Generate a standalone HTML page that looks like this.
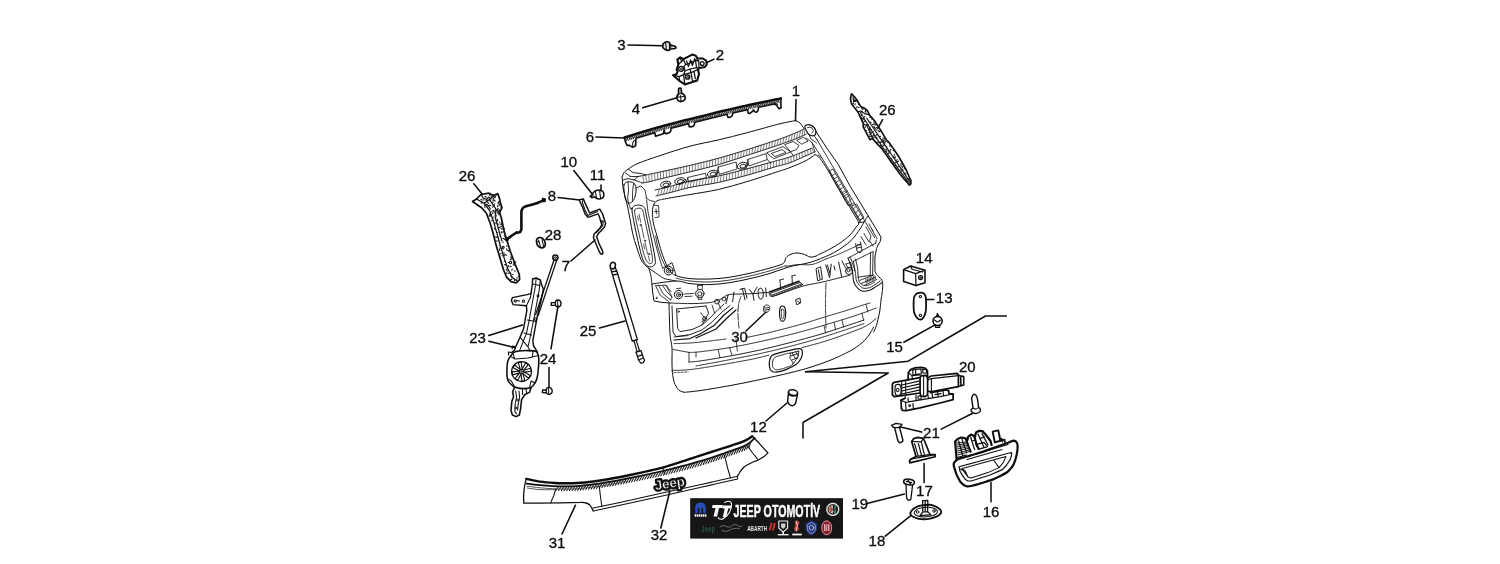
<!DOCTYPE html>
<html><head><meta charset="utf-8"><title>Liftgate parts diagram</title>
<style>
html,body{margin:0;padding:0;background:#fff;}
body{width:1500px;height:564px;overflow:hidden;font-family:"Liberation Sans",sans-serif;}
svg{display:block;}
</style></head><body>
<svg width="1500" height="564" viewBox="0 0 1500 564">
<defs><filter id="soft" x="-2%" y="-2%" width="104%" height="104%"><feGaussianBlur stdDeviation="0.42"/></filter></defs>
<rect x="0" y="0" width="1500" height="564" fill="#ffffff" stroke="none"/>
<g filter="url(#soft)" fill="none" stroke="#0d0d0d" stroke-width="1.3" stroke-linecap="round" stroke-linejoin="round">
<g id="gate">
<path d="M622.2,177 C622.5,176.3 623,173.9 624,172.6 C625,171.3 626,170.6 628.3,169.1 C630.6,167.6 632.7,165.7 638,163.4 C643.3,161.2 651.3,158.5 660,155.6 C668.7,152.7 680.3,148.8 690,146.2 C699.7,143.6 708.9,142.1 718.4,139.9 C727.9,137.7 737.2,135.3 746.7,132.8 C756.2,130.3 767.9,126.9 775.1,125 C782.3,123.1 786.5,122.3 790,121.6 C793.5,120.9 795,120.8 796,120.6" stroke-width="1.00"/>
<path d="M796,121 C796.7,121.3 798.7,121.8 800,123 C801.3,124.2 803.3,127.6 804,128.5" stroke-width="1.00"/>
<path d="M805,126 C805.7,125.1 808.5,124.5 810,124.8 C811.5,125 813,126.4 814,127.5 C815,128.6 816,130.2 816,131.5 C816,132.8 815.2,135 814,135.5 C812.8,136 810.3,135.4 809,134.5 C807.7,133.6 806.7,131.4 806,130 C805.3,128.6 804.3,126.9 805,126Z" stroke-width="1.20"/>
<path d="M807.6,127.6 L811,127 L813.6,130.6 L812,133M809,134.5 L811,139 L816.6,143M814,135.5 L818,141" stroke-width="0.80"/>
<path d="M622.2,177 C622.3,178.2 622.4,181.8 622.6,184 C622.8,186.2 622.8,186.7 623.5,190 C624.2,193.3 625.9,199 627,203.8 C628.1,208.6 629,214 630,219 C631,224 631.6,229 632.7,233.7 C633.8,238.4 635.2,242.8 636.6,247 C638,251.2 639.5,256.1 640.8,259 C642.1,261.9 643.2,263.1 644.6,264.6 C646,266.2 648.2,267.7 648.9,268.3" stroke-width="1.00"/>
<path d="M625.6,173 L630,176.4 L638,176.6M628.3,169.1 L633,172.6 L641.6,173.6 L646,175M623,180 L628,178.6 L634,180 L638,176.6" stroke-width="0.90"/>
<path d="M624,184.6 C624.6,182.9 626.4,182.1 628,181.8 C629.6,181.5 632.3,182 633.6,183 C634.9,184 635.7,185.8 636,188 C636.3,190.2 635.8,193.7 635.2,196 C634.6,198.3 633.5,200.4 632.4,201.6 C631.3,202.8 629.6,203.4 628.4,203 C627.2,202.6 626.1,200.8 625.4,199 C624.7,197.2 624.4,194.4 624.2,192 C624,189.6 623.4,186.3 624,184.6Z" stroke-width="1.00"/>
<path d="M628,181.8 L628.6,190 L627.6,198 L628.4,203M633.6,183 L632.6,191 L632.4,201.6M636,188 L641,186 L645,190 L646.6,198M634,180 L640,182 L642,183M628.4,203 L630.6,209 L632,208" stroke-width="0.80"/>
<path d="M638,176.6 C639.3,176.3 642.3,175.8 646,175 C649.7,174.2 652.7,173.6 660,172 C667.3,170.4 680.3,167.7 690,165.4 C699.7,163.1 708.9,160.9 718.4,158.3 C727.9,155.7 737.2,152.8 746.7,149.8 C756.2,146.9 767.9,143 775.1,140.6 C782.3,138.2 785.9,136.8 790,135.2 C794.1,133.6 797.7,132.1 800,131 C802.3,129.9 803.3,129.2 804,128.8" stroke-width="0.90"/>
<path d="M642,183 C643.3,182.8 647,182.3 650,181.6 C653,180.9 653.3,180.6 660,179 C666.7,177.4 680.3,174.2 690,171.8 C699.7,169.4 708.9,167.4 718.4,164.7 C727.9,162 737.2,158.6 746.7,155.5 C756.2,152.4 767.9,148.6 775.1,146.2 C782.3,143.8 785.9,142.5 790,141 C794.1,139.5 797.3,138.1 800,137 C802.7,135.9 805,134.7 806,134.2" stroke-width="0.90"/>
<path d="M655,190 C657.2,189.5 662.4,188.5 668.2,187 C674,185.5 681.6,182.8 690,181 C698.4,179.2 708.9,178 718.4,176 C727.9,174 737.2,171.4 746.7,168.9 C756.2,166.4 767.9,163.1 775.1,161.1 C782.3,159.1 783.9,159.1 790,156.9 C796.1,154.8 808.3,149.6 812,148.2" stroke-width="0.90"/>
<path d="M656,196 C658.3,195.4 664.3,194 670,192.6 C675.7,191.2 681.9,189.1 690,187.4 C698.1,185.7 708.9,184.4 718.4,182.4 C727.9,180.4 737.2,177.9 746.7,175.3 C756.2,172.7 767.9,168.9 775.1,166.8 C782.3,164.7 783.4,165.1 790,162.6 C796.6,160.1 810.8,153.6 815,151.8" stroke-width="0.90"/>
<path d="M643.5,182.7L642.9,175.6M646.4,182.2L645.8,175M649.3,181.7L648.7,174.4M652.1,181L651.6,173.8M655,180.3L654.5,173.2M657.9,179.6L657.5,172.5M660.7,178.8L660.4,171.9M663.6,178.1L663.3,171.3M666.5,177.4L666.2,170.6M669.4,176.8L669.1,170M672.2,176.1L672,169.4M675.1,175.4L675,168.7M678,174.7L677.9,168.1M680.8,174L680.8,167.4M683.7,173.3L683.7,166.8M686.6,172.6L686.6,166.1M689.5,171.9L689.5,165.5M692.3,171.2L692.4,164.8M695.2,170.5L695.3,164.1M698.1,169.8L698.2,163.3M700.9,169.1L701.1,162.6M703.8,168.3L704,161.9M706.7,167.6L706.9,161.2M709.5,166.9L709.8,160.4M712.4,166.2L712.7,159.7M715.3,165.5L715.6,159M718.1,164.8L718.5,158.3M721,163.9L721.4,157.4M723.8,163L724.2,156.6M726.6,162L727.1,155.7M729.4,161.1L729.9,154.8M732.2,160.2L732.8,154M735,159.3L735.6,153.1M737.8,158.4L738.5,152.3M740.6,157.5L741.4,151.4M743.4,156.6L744.2,150.5M746.2,155.6L747.1,149.7M749.1,154.7L749.9,148.8M751.9,153.8L752.8,147.8M754.7,152.9L755.6,146.9M757.5,152L758.4,146M760.3,151.1L761.3,145.1M763.1,150.1L764.1,144.2M765.9,149.2L767,143.2M768.7,148.3L769.8,142.3M771.5,147.4L772.6,141.4M774.3,146.5L775.5,140.5M777.1,145.5L778.3,139.4M779.9,144.5L781.1,138.4M782.7,143.5L783.9,137.4M785.5,142.6L786.7,136.4M788.3,141.6L789.5,135.4M791.1,140.6L792.3,134.2M793.8,139.5L795,133.1M796.5,138.4L797.8,131.9M799.3,137.3L800.5,130.7M802,136.1L803.1,129.3M804.7,134.8L804,128.8" stroke-width="0.70" stroke="#4a4a4a"/>
<path d="M657.5,195.6L659.3,189M660.5,194.9L662.3,188.3M663.4,194.2L665.2,187.7M666.4,193.5L668.1,187M669.4,192.7L671,186.2M672.4,192L674,185.4M675.3,191.2L676.9,184.6M678.3,190.4L679.8,183.8M681.3,189.7L682.7,183M684.2,188.9L685.6,182.2M687.2,188.1L688.5,181.4M690.2,187.4L691.4,180.7M693.2,186.8L694.4,180.2M696.2,186.3L697.4,179.7M699.2,185.8L700.3,179.2M702.2,185.2L703.3,178.7M705.2,184.7L706.3,178.1M708.3,184.2L709.2,177.6M711.3,183.7L712.2,177.1M714.3,183.1L715.2,176.6M717.3,182.6L718.1,176M720.3,181.9L721.1,175.3M723.3,181.2L724,174.6M726.2,180.4L726.9,173.9M729.2,179.7L729.8,173.1M732.2,178.9L732.8,172.4M735.2,178.2L735.7,171.7M738.1,177.4L738.6,170.9M741.1,176.7L741.5,170.2M744.1,176L744.4,169.5M747,175.2L747.4,168.7M750,174.3L750.3,167.9M752.9,173.4L753.2,167.1M755.8,172.6L756.1,166.3M758.8,171.7L759,165.5M761.7,170.8L761.9,164.7M764.7,169.9L764.8,163.9M767.6,169L767.7,163.1M770.5,168.2L770.6,162.3M773.5,167.3L773.5,161.5M776.4,166.4L776.4,160.7M779.4,165.6L779.3,159.9M782.3,164.8L782.2,159.1M785.2,163.9L785.1,158.3M788.2,163.1L788,157.5M791.1,162.1L790.9,156.5M793.9,160.9L793.7,155.4M796.7,159.7L796.5,154.3M799.5,158.5L799.3,153.2M802.3,157.3L802.1,152.1M805.2,156.1L804.9,151M808,154.8L807.7,149.9M810.8,153.6L810.5,148.8M813.6,152.4L812,148.2" stroke-width="0.70" stroke="#4a4a4a"/>
<ellipse cx="665.6" cy="184.4" rx="5.2" ry="3.1" transform="rotate(-14 665.6 184.4)" stroke-width="0.90"/><ellipse cx="680" cy="181" rx="5.4" ry="3.2" transform="rotate(-14 680 181)" stroke-width="0.90"/><ellipse cx="712.7" cy="173.6" rx="5.4" ry="3.2" transform="rotate(-15 712.7 173.6)" stroke-width="0.90"/><ellipse cx="742.5" cy="165.7" rx="5.4" ry="3.2" transform="rotate(-16 742.5 165.7)" stroke-width="0.90"/>
<ellipse cx="666" cy="184.8" rx="3" ry="1.7" transform="rotate(-14 666 184.8)" stroke-width="0.90"/><ellipse cx="680.4" cy="181.4" rx="3.1" ry="1.8" transform="rotate(-14 680.4 181.4)" stroke-width="0.90"/><ellipse cx="713.1" cy="174" rx="3.1" ry="1.8" transform="rotate(-15 713.1 174)" stroke-width="0.90"/><ellipse cx="742.9" cy="166.1" rx="3.1" ry="1.8" transform="rotate(-16 742.9 166.1)" stroke-width="0.90"/>
<path d="M688,177.4 L705.6,173.2 L706.4,177.6 L689,182ZM718.4,167 L736.2,162 L737,169 L719.6,174.2ZM748,159.4 L766,153.6 L767.2,159.6 L749.4,165.8Z" stroke-width="0.80"/>
<path d="M767,152.6 L783,146.6 L790.6,152 L774,158.6ZM771.6,153.4 L782,149.6 L786,152.4 L775.4,156.4ZM785,144.6 L793,141.4 L799,145.4 L796.6,149.6 L791,151.6ZM797,140 L803.6,137.4 L808,141 L802,144ZM767.2,159.6 L771,163M790.6,152 L793.6,156M688,177.4 L686,183M718.4,167 L716,176.6M748,159.4 L746,169" stroke-width="0.80"/>
<path d="M657.6,200.4 C659.1,200.1 661,199.6 666.4,198.6 C671.8,197.6 681.3,196 690,194.5 C698.7,193 708.9,191.6 718.4,189.5 C727.9,187.4 737.2,184.5 746.7,181.7 C756.2,178.9 767.9,174.9 775.1,172.5 C782.3,170.1 784.9,169.5 790,167.5 C795.1,165.5 801.8,162.8 806,160.6 C810.2,158.4 813.5,155.6 815,154.6" stroke-width="1.00"/>
<path d="M657.6,200.4 C657,201 654.9,202.1 654,204 C653.1,205.9 652.5,208.7 652.4,212 C652.3,215.3 652.8,220 653.6,224 C654.4,228 655.7,231.3 657,236 C658.3,240.7 660,247.4 661.5,252 C663,256.6 664.6,260.5 666,263.7 C667.4,266.9 668.3,269 670,271 C671.7,273 672.7,274.3 676,275.6 C679.3,276.9 684.3,278 690,278.6 C695.7,279.2 703.3,279.2 710,279 C716.7,278.8 723.3,278.2 730,277.2 C736.7,276.2 743.3,274.7 750,273.2 C756.7,271.7 764.8,269.4 770,268 C775.2,266.6 778.6,265.6 781,264.6 C783.4,263.6 783.8,263.2 784.6,262 C785.4,260.8 784.9,258.9 786,257.6 C787.1,256.3 789,255 791,254.2 C793,253.4 795.7,252.9 798,253 C800.3,253.1 802.6,253.9 804.6,254.6 C806.6,255.3 808.3,256.7 810,257 C811.7,257.3 813.3,256.9 815,256.4 C816.7,255.9 817.5,255.2 820,254 C822.5,252.8 826.7,250.8 830,249 C833.3,247.2 836.7,245.3 840,243 C843.3,240.7 847.3,237.7 850,235 C852.7,232.3 854.6,229.1 856,227 C857.4,224.9 859.3,225.3 858.6,222.6 C857.9,219.9 855.1,216.3 852,211 C848.9,205.7 844,197.4 840,190.6 C836,183.8 831.3,175.8 828,170.4 C824.7,165 822.2,161 820,158.4 C817.8,155.8 815.8,155.2 815,154.6" stroke-width="1.00"/>
<path d="M816,131.5 L826,147 L838,164 L850,186 L868,215.6 L881,237 L880.2,241.6 L878,245" stroke-width="1.00"/>
<path d="M816.6,139 L826,155 L846,189 L864,219.6 L874.6,237.6M812,142.6 L822,158 L842,192 L860.6,222.6M806,138 L812,142.6 L815,151.8M822,158 L818,155" stroke-width="0.80"/>
<path d="M829.6,170.6 L833,169 L848.6,196 L851.6,204 L848,205.6 L832.6,178.6ZM852,205.6 L856.6,204 L864,217.6 L860,220Z" stroke-width="0.80"/>
<path d="M835,173.7L832,175.7M837,177.1L834,179.1M839,180.6L836,182.6M841,184L838,186M843,187.4L840,189.4M845,190.9L842,192.9M847,194.3L844,196.3" stroke-width="0.70"/>
<path d="M847.1,190.9L843.5,194.5M849.4,194.7L845.9,198.3M851.6,198.6L848.2,202.2M853.9,202.4L850.5,206M856.1,206.2L852.8,209.8M858.4,210L855.2,213.6M860.6,213.9L857.5,217.5M862.9,217.7L859.8,221.3" stroke-width="0.70"/>
<path d="M632,208.6 C632.3,206.7 633.3,206.4 634.6,205.8 C635.9,205.2 638.4,204.9 640,205.2 C641.6,205.5 643.4,206.1 644.4,207.6 C645.4,209.1 645.2,210.6 646,214 C646.8,217.4 647.9,223 649,228 C650.1,233 651.4,239 652.4,244 C653.4,249 654.6,254.7 655,258 C655.4,261.3 655.6,262.5 655,264 C654.4,265.5 652.9,266.5 651.6,266.8 C650.3,267.1 648.4,266.7 647,265.6 C645.6,264.5 644.2,262.9 643,260 C641.8,257.1 640.8,252.7 639.6,248 C638.4,243.3 637.1,237.2 636,232 C634.9,226.8 633.7,220.9 633,217 C632.3,213.1 631.7,210.5 632,208.6Z" stroke-width="1.00"/>
<path d="M634.6,210.6 C634.7,209 635.5,209 636.4,208.6 C637.3,208.2 639,208 640,208.2 C641,208.4 641.9,208.7 642.6,210 C643.3,211.3 643.3,212.7 644,216 C644.7,219.3 646,225.2 647,230 C648,234.8 649.3,240.3 650.2,245 C651.1,249.7 652.1,255.1 652.4,258 C652.7,260.9 652.5,261.5 652.2,262.4 C651.9,263.3 651.3,263.6 650.6,263.6 C649.9,263.6 648.9,263.5 648,262.6 C647.1,261.7 646.2,260.6 645.2,258 C644.2,255.4 643.1,251.5 642,247 C640.9,242.5 639.5,235.8 638.4,231 C637.3,226.2 636.2,221.4 635.6,218 C635,214.6 634.5,212.2 634.6,210.6Z" stroke-width="0.80"/>
<path d="M639,214 L640.6,222M641.6,226 L644,238M645,242 L647.6,254M637.6,216 L638.4,220M643.6,244 L644.6,249M648.4,256 L649.6,260.6" stroke-width="0.80" stroke="#333"/>
<circle cx="640.6" cy="225" r="0.7" stroke-width="0.70"/><circle cx="645" cy="240.6" r="0.7" stroke-width="0.70"/><circle cx="649" cy="254" r="0.7" stroke-width="0.70"/>
<path d="M646.6,200 L648,212 L652,230 L656.6,248 L660.6,262 L662.7,268.3" stroke-width="0.80"/>
<path d="M653.6,205 L658.6,205.6 L659,217 L655,217.6M656,209 L656.4,214M654.6,211.6 L658,211.4M646,198 L650,200.6 L654.6,201.5M655.6,236 L658,248 L662,259.6 L665.6,266.6 L670,271" stroke-width="0.80"/>
<circle cx="668.6" cy="270.6" r="4.4" stroke-width="1.00"/><circle cx="668.6" cy="270.6" r="2.4" stroke-width="0.80"/><circle cx="668.6" cy="270.6" r="0.9" stroke-width="0.70"/>
<path d="M648.9,268.3 L651,276 L652,284M648.9,268.3 L664,278.6 L676,281M663,268 L672,262.6 L676,275" stroke-width="0.90"/>
<path d="M652,284 C656,283.5 669.7,281.1 676,281 C682.3,280.9 684.3,283 690,283.6 C695.7,284.2 703.3,284.8 710,284.6 C716.7,284.4 723.3,283.6 730,282.6 C736.7,281.6 743.3,280.1 750,278.6 C756.7,277.1 763.3,275.4 770,273.4 C776.7,271.4 783.3,268.4 790,266.6 C796.7,264.8 803.3,264.4 810,262.4 C816.7,260.4 824.7,257.1 830,254.6 C835.3,252.1 838.3,250.1 842,247.6 C845.7,245.1 849,242.7 852,239.6 C855,236.5 858,231.9 860,229 C862,226.1 863.3,223.2 864,222" stroke-width="1.00"/>
<path d="M676,278.2 C678.3,278.7 684.3,280.4 690,281 C695.7,281.6 703.3,282.2 710,282 C716.7,281.8 723.3,281 730,280 C736.7,279 743.3,277.5 750,276 C756.7,274.5 764,272.5 770,270.8 C776,269.1 783.3,266.5 786,265.6" stroke-width="0.80"/>
<path d="M786,266.4 C788,266.1 793.7,264.9 798,264.6 C802.3,264.3 807.3,265.4 812,264.5 C816.7,263.6 821.4,260.8 826,259 C830.6,257.2 835.6,255.5 839.6,253.8 C843.6,252.1 846.5,250.6 850,249 C853.5,247.4 859.1,245.1 860.9,244.3" stroke-width="0.80"/>
<path d="M652,284 L652.6,292 L654,301 L662,302.4 L670,303" stroke-width="1.00"/>
<path d="M655.6,285.6 L660,295 L668.6,301.4M658.6,285.4 L663,293.6 L670.6,300M662.6,285.6 L667,292 L672,297M666,285.2 L671,291.6M655.6,285.6 L666,285.2 L672,297 L670.6,300" stroke-width="0.80"/>
<circle cx="656.6" cy="298" r="0.7" stroke-width="0.70"/>
<path d="M670,303 C673.3,303.1 683.7,303.6 690,303.6 C696.3,303.6 703.7,303.2 708,302.8 C712.3,302.4 713.7,301.7 716,301 C718.3,300.3 720,299.6 722,298.6 C724,297.6 725,295.6 728,294.8 C731,294 735.7,294.2 740,294 C744.3,293.8 749.3,293.8 754,293.6 C758.7,293.4 765,292.1 768,292.6 C771,293.1 768.3,296.8 772,296.4 C775.7,296 784.6,292.2 790,290.4 C795.4,288.6 799.1,287.1 804.5,285.7 C809.9,284.3 817.8,283.1 822.6,282 C827.4,280.9 829.3,280.4 833.2,279.4 C837.1,278.4 843.2,276.9 846,276.2 C848.8,275.5 849.5,275.3 850.2,275.1" stroke-width="0.90"/>
<circle cx="678.6" cy="294.6" r="4.2" stroke-width="1.00"/><circle cx="678.6" cy="294.8" r="2.2" stroke-width="0.80"/><circle cx="678.6" cy="294.8" r="0.8" stroke-width="0.70"/><circle cx="699.8" cy="293.6" r="4.2" stroke-width="1.00"/><circle cx="699.8" cy="293.8" r="2.1" stroke-width="0.80"/>
<path d="M697.6,285.6 L698,289.6M702.4,285.4 L702.2,289.6M697.6,285.6 L702.4,285.4M698,296 L698.4,299.6 L701.8,299.6 L702,296M676.6,288.6 L680.8,288.2M684.6,294 L694,293.4M685,296.6 L692,296.2" stroke-width="0.80"/>
<path d="M740,289.4 L744.6,288.2 L747,298.2M742.4,288.8 L745,299.8M749.6,289.6 L753,294.2 L757,287.2M753,294.2 L754,300.4M758.6,289.4 C759.2,288.4 760.8,287.8 761.6,288.4 C762.4,289 763,291.2 763.2,292.8 C763.4,294.4 763.2,297 762.6,298 C762,299 760.5,299.4 759.8,298.8 C759.1,298.2 758.4,296 758.2,294.4 C758,292.8 758,290.4 758.6,289.4ZM734,292 L732.6,301.6M728,295.4 L726,303.6M765.6,288 L766.4,296.6" stroke-width="0.95"/>
<path d="M770,293.4 L800,282.4 L803,284.6 L773,296.2ZM771.6,295.2 L801.6,284M780,280 L780.6,288.6M792,276 L792.4,284.4M780,280 L783.6,279M792,276 L795.6,275" stroke-width="0.90"/>
<path d="M769.4,292 L799,281.2" stroke-width="1.60"/>
<path d="M816.4,268.6 L820.6,266.8 L822.4,279.2 L818,280.6ZM818.4,270 L820,278.6M825.8,265 L829.6,277.6 L831.2,264.2M827.4,265 L829.8,273M838.6,262 L841.6,276.6M842,261 L845.6,268M834,266 L835,270" stroke-width="0.95"/>
<circle cx="849.1" cy="270.9" r="3.6" stroke-width="1.00"/><circle cx="848.6" cy="270.2" r="1.6" stroke-width="0.80"/>
<path d="M846,264 L847.6,267.4M850.6,262.6 L852,267.6M846,264 L850.6,262.6" stroke-width="0.80"/>
<path d="M878,245 C877.7,245.8 876.8,247.8 876.3,250 C875.8,252.2 875.1,255.3 874.9,258 C874.7,260.7 875,263.7 875,266 C875,268.3 874.6,270.1 875.2,271.9 C875.8,273.7 877.5,275.2 878.6,276.6 C879.8,278 881.4,278.7 882.1,280.4 C882.8,282.1 882.7,284.5 882.7,286.8 C882.7,289.1 882.3,291.8 882,294 C881.7,296.2 881.4,297 881,300 C880.6,303 880.4,307.7 879.6,312 C878.8,316.3 877.4,322.3 876.4,325.6 C875.4,328.9 874.1,330.9 873.6,332" stroke-width="1.00"/>
<path d="M858.6,222.6 L864,222 L868,215.6" stroke-width="0.90"/>
<path d="M848.1,258.1 C848.5,259.2 849.9,262.9 850.6,265 C851.3,267.1 851.9,269.1 852.3,270.9 C852.7,272.7 852.8,274.4 853,276 C853.2,277.6 853.1,279.1 853.4,280.4 C853.7,281.7 854.1,282.9 854.6,284 C855.1,285.1 855.9,285.9 856.6,286.8 C857.3,287.7 858.1,288.7 859,289.4 C859.9,290.1 860.7,290.7 861.9,291 C863.1,291.3 864.6,291.2 866,291 C867.4,290.8 868.7,290.7 870.4,290 C872.1,289.3 874,287.8 876,286.6 C878,285.4 881.1,283.3 882.1,282.6" stroke-width="1.05"/>
<path d="M850.2,257 C850.6,258.2 852,261.7 852.8,264 C853.6,266.3 854.5,268.9 855,270.9 C855.5,272.9 855.6,274.6 855.8,276 C856,277.4 855.8,278.3 856.1,279.4 C856.4,280.5 856.9,281.6 857.4,282.6 C857.9,283.6 858.6,284.4 859.3,285.2 C860,286 860.8,286.7 861.6,287.2 C862.4,287.7 862.9,288.3 864,288.4 C865.1,288.5 866.8,288.3 868,288 C869.2,287.7 870.2,287.5 871.5,286.8 C872.8,286.1 874.6,285 876,284 C877.4,283 879.3,281.5 880,281" stroke-width="0.85"/>
<path d="M858.2,277.2 C858.3,277.8 858.5,279.7 858.8,280.6 C859.1,281.5 859.3,281.9 859.8,282.6 C860.3,283.3 861.1,284.1 862,284.6 C862.9,285.1 863.8,285.7 865.1,285.7 C866.4,285.7 868.4,285.2 870,284.6 C871.6,284 873.9,282.4 874.7,282" stroke-width="0.80"/>
<path d="M848.1,258.1 L875.7,243.2M853.4,261.3 L872.6,251.7M873.1,251.7 L872.8,264 L872.6,275.1M875.7,243.2 L876.3,240M853.4,261.3 L855,270.9M870.6,252.8 L870.2,276M855.6,259 L857.6,268 L858.2,277.2M858.2,277.2 L872.6,275.1" stroke-width="0.85"/>
<path d="M859.8,280.4 L873.6,275.1M860.9,283.6 L875.7,277.2M864,285.7 L876.8,279.4" stroke-width="0.80"/>
<path d="M865.8,279.3L866.4,283.1M867.3,278.7L867.9,282.4M868.8,278.2L869.4,281.8M870.3,277.6L870.9,281.1M871.8,277L872.4,280.4M873.3,276.5L873.9,279.8M874.8,275.9L875.4,279.1" stroke-width="0.80" stroke="#222"/>
<path d="M855.6,243.6 L857,251 L860,253 L862,250 L860.4,242M857,245 L859.6,244.4M857.4,248 L860.6,247.2" stroke-width="0.90"/>
<path d="M866,227 L871,236 L869.6,241 L873,246M872,229.6 L877,238.6M861,236.6 L866,245M864,233.6 L869,242M869,224 L873,231" stroke-width="0.80"/>
<path d="M669,303 C669.1,305.5 669.2,312.8 669.4,318 C669.6,323.2 669.6,329 670,334 C670.4,339 671.7,344 672,348 C672.3,352 672,354.3 672,358 C672,361.7 671.9,366.3 672.2,370 C672.5,373.7 673,377.3 673.6,380 C674.2,382.7 675.1,384.3 676,386 C676.9,387.7 677.7,389.4 679,390.4 C680.3,391.4 682.8,391.7 683.6,392" stroke-width="1.00"/>
<path d="M683.6,392.4 C686.3,392.1 692.3,391.7 700,390.6 C707.7,389.5 720,387.4 730,385.6 C740,383.8 750,381.7 760,379.6 C770,377.5 781.7,374.8 790,372.8 C798.3,370.8 803.3,369.5 810,367.4 C816.7,365.3 823.3,363.1 830,360.4 C836.7,357.7 844.7,353.9 850,351 C855.3,348.1 858.8,345.5 862,342.8 C865.2,340.1 867.1,337.6 869,335 C870.9,332.4 872.8,328.3 873.6,327" stroke-width="1.00"/>
<path d="M672,306 L673,332 L676,336.6 L690,334.6 L702,330 L712,322 L722,312 L730,305.6M676.6,309 L677.6,328.6 L680,331.6 L692,329.6 L702,325 L710,318 L718,309.6 L724,304M676.6,309 L690,307.6 L706,306M706,306 L708.6,313 L702,325" stroke-width="0.90"/>
<path d="M700,334 L714,325.6 L724,315 L733,307.6M696,338 L716,329 L727,318 L736,310M674,340 L690,338.6 L700,334" stroke-width="1.15"/>
<path d="M674,337 L688,335.6M700.6,312.6 L704.6,318 L702,322M712,305 L714.6,313M718,302.6 L721,309" stroke-width="0.80"/>
<circle cx="678.6" cy="311.6" r="0.8" stroke-width="0.70"/><circle cx="704.6" cy="318.6" r="2" stroke-width="0.80"/><circle cx="717" cy="301.6" r="2.4" stroke-width="0.90"/><circle cx="724" cy="299" r="2" stroke-width="0.80"/>
<path d="M741,296.6 C740.6,297.8 739.1,300.8 738.6,304 C738.1,307.2 737.9,312 738,316 C738.1,320 738.8,326 739,328M826,283 C825.9,285.2 825.7,291.2 825.6,296 C825.5,300.8 825.5,306.7 825.6,312 C825.7,317.3 825.9,325.3 826,328" stroke-width="0.80" stroke-dasharray="7 1.5"/>
<path d="M764,306.6 C764.5,305.7 765.7,305 766.6,305 C767.5,305 769.2,305.5 769.6,306.4 C770,307.3 769.6,309.6 769,310.6 C768.4,311.6 766.9,312.6 766,312.6 C765.1,312.6 763.9,311.6 763.6,310.6 C763.3,309.6 763.5,307.5 764,306.6ZM764.6,308 L768.6,307.6M764.6,310 L768.6,309.6" stroke-width="0.90"/>
<path d="M780,308 C780.5,306.3 781.8,306 782.6,306 C783.4,306 784.5,306.3 785,308 C785.5,309.7 785.8,313.9 785.6,316 C785.4,318.1 784.8,319.8 784,320.6 C783.2,321.4 781.7,321.4 781,320.6 C780.3,319.8 779.8,318.1 779.6,316 C779.4,313.9 779.5,309.7 780,308Z" stroke-width="1.10"/>
<path d="M781.4,310 C781.6,308.6 782.6,308.8 783,309 C783.4,309.2 783.8,309.8 784,311 C784.2,312.2 784.2,314.7 784,316 C783.8,317.3 783.4,318.3 783,318.6 C782.6,318.9 781.9,319 781.6,317.6 C781.3,316.2 781.2,311.4 781.4,310Z" stroke-width="0.80"/>
<path d="M796,299.6 L800,298 L800.6,303 L797,304.6ZM797.6,301 L799.6,302.6" stroke-width="0.90"/>
<path d="M746,337.6 C750,336.7 761,334.6 770,332.4 C779,330.2 790.7,327.2 800,324.6 C809.3,322 818.3,318.9 826,316.6 C833.7,314.3 840,312.5 846,310.6 C852,308.7 858,306.7 862,305.4 C866,304.1 868.7,303.4 870,303" stroke-width="0.80"/>
<path d="M674,343.6 C676.7,343.5 684,343.4 690,343 C696,342.6 704,341.7 710,341 C716,340.3 723.3,339.3 726,339" stroke-width="0.80"/>
<path d="M689,352.4 C690.8,352.3 693.2,352.6 700,351.8 C706.8,351 720,349.3 730,347.6 C740,345.9 750,343.8 760,341.6 C770,339.4 780,337.1 790,334.6 C800,332.1 810.7,329.1 820,326.4 C829.3,323.7 838.7,320.9 846,318.6 C853.3,316.3 859,314.4 864,312.6 C869,310.8 874,308.8 876,308" stroke-width="0.80"/>
<path d="M689,362 C690.8,361.8 693.2,362 700,361 C706.8,360 720,357.8 730,356 C740,354.2 750,352.2 760,350 C770,347.8 780,345.2 790,342.6 C800,340 810.7,337.2 820,334.4 C829.3,331.6 838.7,328.4 846,326 C853.3,323.6 861,321 864,320" stroke-width="0.90"/>
<path d="M696,366 C701.7,364.9 719.3,361.7 730,359.6 C740.7,357.5 750,355.8 760,353.6 C770,351.4 780,349 790,346.4 C800,343.8 810.7,340.8 820,338 C829.3,335.2 838.7,332 846,329.6 C853.3,327.2 861,324.6 864,323.6" stroke-width="0.80"/>
<path d="M673,349.4 L689,352.4M689,352.4 L689,362M696,352 L696,357M718,349.4 L720,357.6M729.6,347.6 L732,355.6M736,339 L737.4,351M824,325.6 L825.6,332.6M834,322.4 L835.6,329.4M842,319.6 L843.6,327M862,313.2 L863.6,320.6M866,304.4 L868,312" stroke-width="0.80"/>
<path d="M672,370.4 C675,370.3 682,370.5 690,369.6 C698,368.7 710,366.7 720,365 C730,363.3 741.8,361.2 750,359.6 C758.2,358 765.8,355.9 769,355.2" stroke-width="0.80"/>
<path d="M802,347.6 C806,346.5 818,343.5 826,341 C834,338.5 843.3,335.1 850,332.6 C856.7,330.1 861.7,328.3 866,326 C870.3,323.7 874.3,319.8 876,318.6" stroke-width="0.80"/>
<path d="M674,372.6 L688,372" stroke-width="0.70" stroke-dasharray="2 1.5"/>
<path d="M769.6,360.6 C770,358.9 770.3,356.9 772,355.6 C773.7,354.3 776.7,353.6 780,352.6 C783.3,351.6 788.7,350.5 792,349.8 C795.3,349.1 798.3,348.3 800,348.6 C801.7,348.9 802.2,349.9 802.4,351.6 C802.6,353.3 802.1,356.4 801,358.6 C799.9,360.8 798.5,362.8 796,364.6 C793.5,366.4 789.3,368.3 786,369.6 C782.7,370.9 778.5,372 776,372.2 C773.5,372.4 772.1,371.6 771,370.6 C769.9,369.6 769.6,367.7 769.4,366 C769.2,364.3 769.2,362.3 769.6,360.6Z" stroke-width="1.20"/>
<path d="M772.6,361.6 C773,360.4 773,358.7 774.6,357.6 C776.2,356.5 779.4,355.7 782,355 C784.6,354.3 788.7,352.7 790,353.2 C791.3,353.7 789.5,356.2 790,358 C790.5,359.8 793.7,362.4 793,364 C792.3,365.6 788.7,366.6 786,367.6 C783.3,368.6 779.1,369.7 777,369.8 C774.9,369.9 774.2,368.8 773.4,368 C772.6,367.2 772.5,366.1 772.4,365 C772.3,363.9 772.2,362.8 772.6,361.6Z" stroke-width="0.80"/>
<path d="M790,353.2 L799,351 L797.6,357.6 L793,364M792,352.8 L795.6,358.6M795.6,351.8 L798.4,356M791,356 L797,353.6M792,360 L797.6,357.6" stroke-width="0.90"/>
</g>
<g id="p3">
<path d="M663,44.3 C663.5,43.5 664.4,42.3 665.4,42 C666.4,41.7 668.1,41.8 669,42.3 C669.9,42.8 669.7,44.3 670.7,45 C671.7,45.7 674.2,45.8 675,46.3 C675.8,46.8 676.3,47.8 675.6,48.3 C674.9,48.8 672.2,48.7 671,49 C669.8,49.3 669.3,50.2 668.3,50.3 C667.3,50.4 665.9,49.9 665,49.4 C664.1,48.9 663,47.9 662.7,47 C662.4,46.1 662.5,45.1 663,44.3Z" stroke-width="1.69" fill="#e4e4e4"/>
<path d="M665.6,42.6 L666.4,49.6M669.4,43.4 L669.6,49.4M670.7,45 L670.8,48.8" stroke-width="1.04"/>
</g>
<g id="p2">
<path d="M677.3,59.6 L680.2,57.4 L683.4,59.2 L692.2,54.6 L695.8,55.7 L697.2,58.2 L702.9,58.5 L706.1,60.6 L706.8,64.2 L705,67 L699.3,68.1 L697.9,69.5 L699,74.1 L697.2,80.5 L684.8,84.4 L679.8,81.2 L673.1,75.2 L676.6,74.1 L677.7,71.3 L676.6,69.9 L678.4,64.2Z" stroke-width="2.08"/>
<circle cx="702.2" cy="63.5" r="1.9" stroke-width="1.30"/><circle cx="681.2" cy="68.8" r="2.5" stroke-width="1.30"/><circle cx="681.4" cy="69" r="1" stroke-width="0.91"/><circle cx="687.6" cy="77" r="2.2" stroke-width="1.30"/><circle cx="687.6" cy="77.2" r="0.9" stroke-width="0.91"/>
<path d="M683.4,59.2 L685.6,64.6 L684,66.4M685.6,64.6 L697.2,60.2M686.6,61 L688.4,66.6 L690.6,60 L692.4,65.6 L694.6,58.6M695.4,59.6 L696.6,67.6 L699.3,68.1M697.2,58.2 L697.6,61M698.6,60 L699,66.6M684,66.4 L685,71 L690,69 L696.6,67.6M685,71 L683.6,74.6 L684.8,84.4M690,69 L691,72.6 L697.9,69.5M683.6,74.6 L691,72.6 L692.6,81.4M673.1,75.2 L679,76.6 L679.8,81.2M679,76.6 L683.6,74.6M692.6,81.4 L697.2,80.5M694,72 L695.4,78.6M680.2,57.4 L681.6,61.6 L678.4,64.2M681.6,61.6 L683.4,59.2" stroke-width="1.23"/>
</g>
<g id="p4">
<path d="M678.6,89 C678.8,88.4 679.6,88.2 680,88.2 C680.4,88.2 681,88.3 681.2,89 C681.4,89.7 681.2,91.8 681.4,92.6 C681.6,93.4 682.1,93.1 682.6,93.6 C683.1,94.1 684.2,94.8 684.6,95.6 C685,96.4 685.4,97.7 685.2,98.6 C685,99.5 684.3,100.3 683.4,100.8 C682.5,101.3 680.8,101.6 679.8,101.4 C678.8,101.2 677.9,100.4 677.4,99.6 C676.9,98.8 676.6,97.5 676.8,96.6 C677,95.7 678.1,94.8 678.4,94 C678.7,93.2 678.6,92.4 678.6,91.6 C678.6,90.8 678.4,89.6 678.6,89Z" stroke-width="1.76"/>
<path d="M678.4,94 L682.6,93.6M680.6,95.6 L681,101M677.4,97 L684.8,96.6" stroke-width="1.04"/>
</g>
<g id="p6">
<path d="M624.6,137.6 C628,136.5 638.3,133.2 645,131.2 C651.7,129.2 658.3,127.3 665,125.5 C671.7,123.7 678.7,121.9 685,120.3 C691.3,118.7 696.3,117.5 703,115.9 C709.7,114.3 718,112.2 725,110.6 C732,108.9 738.3,107.5 745,106 C751.7,104.5 759,103 765,101.7 C771,100.4 778.2,99 780.8,98.4" stroke-width="2.60"/>
<path d="M780.8,98.4 L781,108 L778.8,108.6 L776.6,105.4 L774.4,103.9 L758.6,107.2 L758,110.7 L756.6,112.1 L754.7,111.7 L753.5,110 L751.9,111.9 L749.6,113.6 L748.2,113.1 L747.6,109.6 L732.8,113 L732.2,115.8 L730.8,117 L729.2,117.4 L727.8,117.1 L727.2,114.3 L694.8,122.1 L694.2,125.1 L692.8,126.4 L690.6,126.9 L689.2,126.6 L688.6,123.6 L671.2,128.1 L670.6,131.4 L669.2,132.8 L666.2,133.6 L664.8,133.3 L664.2,129.9 L663.4,133.8 L655.6,136.2 L654.8,132.6 L636,138.2 L635.6,145.8 L632.6,147.4 L629.6,145.4 L627,145.4 L625.4,142 L624.6,137.6" stroke-width="1.62"/>
<path d="M634.6,140.2 L632.8,142.6 L632.6,147M775.5,103.2 L777.8,104.6" stroke-width="1.04"/>
<path d="M625.5,138.3L626.5,140.9M627.2,137.8L628.3,140.3M629,137.2L630,139.8M630.7,136.7L631.8,139.2M632.5,136.1L633.5,138.7M634.2,135.6L635.3,138.1M636,135L637,137.6M637.7,134.5L638.8,137M639.4,133.9L640.5,136.5M641.2,133.4L642.3,135.9M642.9,132.8L644,135.4M644.7,132.3L645.8,134.9M646.4,131.8L647.5,134.4M648.2,131.3L649.3,133.9M650,130.8L651,133.4M651.7,130.3L652.8,132.8M653.5,129.8L654.6,132.3M655.3,129.3L656.3,131.8M657,128.8L658.1,131.3M658.8,128.3L659.8,130.8M660.5,127.8L661.6,130.3M662.3,127.3L663.4,129.8M664.1,126.8L665.1,129.3M665.8,126.3L666.9,128.9M667.6,125.8L668.7,128.4M669.4,125.4L670.4,127.9M671.1,124.9L672.2,127.5M672.9,124.4L674,127M674.7,124L675.8,126.6M676.5,123.5L677.5,126.1M678.2,123.1L679.3,125.6M680,122.6L681.1,125.2M681.8,122.1L682.8,124.7M683.5,121.7L684.6,124.3M685.3,121.2L686.4,123.8M687.1,120.8L688.2,123.4M688.9,120.4L689.9,122.9M690.7,119.9L691.7,122.5M692.4,119.5L693.5,122.1M694.2,119L695.3,121.6M696,118.6L697.1,121.2M697.8,118.2L698.8,120.8M699.5,117.7L700.6,120.3M701.3,117.3L702.4,119.9M703.1,116.9L704.2,119.5M704.9,116.4L706,119M706.7,116L707.7,118.6M708.4,115.6L709.5,118.2M710.2,115.2L711.3,117.7M712,114.7L713.1,117.3M713.8,114.3L714.9,116.9M715.6,113.9L716.6,116.5M717.3,113.4L718.4,116M719.1,113L720.2,115.6M720.9,112.6L722,115.2M722.7,112.2L723.8,114.7M724.5,111.7L725.5,114.3M726.2,111.3L727.3,113.9M728,110.9L729.1,113.5M729.8,110.5L730.9,113.1M731.6,110.1L732.7,112.7M733.4,109.7L734.5,112.3M735.2,109.3L736.2,111.9M737,108.9L738,111.4M738.7,108.4L739.8,111M740.5,108L741.6,110.6M742.3,107.6L743.4,110.2M744.1,107.2L745.2,109.8M745.9,106.8L746.9,109.4M747.7,106.4L748.7,109M749.5,106L750.5,108.6M751.2,105.7L752.3,108.3M753,105.3L754.1,107.9M754.8,104.9L755.9,107.5M756.6,104.5L757.7,107.1M758.4,104.1L759.5,106.7M760.2,103.7L761.3,106.3M762,103.3L763.1,105.9M763.8,103L764.8,105.6M765.6,102.6L766.6,105.2M767.4,102.2L768.4,104.8M769.2,101.8L770.2,104.4M770.9,101.5L772,104.1M772.7,101.1L773.8,103.7M774.5,100.7L775.6,103.3M776.3,100.3L777.4,102.9M778.1,100L779.2,102.6M779.9,99.6L781,102.2" stroke-width="1.04" stroke="#2a2a2a"/>
<path d="M624.9,140.2 C628.3,139.1 638.6,135.8 645.3,133.8 C652,131.8 658.6,129.9 665.3,128.1 C672,126.3 679,124.5 685.3,122.9 C691.6,121.3 696.6,120.1 703.3,118.5 C710,116.9 718.3,114.8 725.3,113.2 C732.3,111.5 738.6,110.1 745.3,108.6 C752,107.1 759.3,105.6 765.3,104.3 C771.3,103 778.5,101.5 781.1,101" stroke-width="0.91" stroke="#444" stroke-dasharray="3 2.2 1.2 1.6"/>
</g>
<g id="p26r">
<path d="M851.4,93.8 L850.5,99 L851.5,103.7 L854.4,107.6 L857.9,112 L860.6,117.6 L863.4,123.9 L863,126.4 L866.6,133.4 L869.9,139.6 L872.6,138.7 L877,143.6 L881.9,148.8 L886.4,155 L891.1,161.7 L895.6,168 L900.3,174.6 L904,179 L907.7,182.9 L909.4,185.2 L911,183.6 L910.6,180.2 L908.4,175 L905.8,169.1 L902.4,163 L898.5,156.2 L893.6,149 L888.3,141.5 L886.8,140.6 L881.9,132.2 L878.6,127 L875.4,122.1 L872.6,118.6 L869.9,115.6 L868.4,112.6 L867.1,110.1 L864,108 L860.7,106.4 L858.6,103 L857,100 L854.6,97 L852.4,94.5 L851.4,93.8Z" stroke-width="1.62"/>
<path d="M863.4,123.9 L866.6,125.6 L869.6,131 L872.6,138.7M857.9,112 L861,111 L864.6,113.6 L868.6,114.6M860.6,117.6 L865,120 L870,128 L876,137.6 L884,149 L893,161.6 L901,172.6 L908,181.6M853,96.8 L853.6,101.6 L857,101M886.8,140.6 L884.4,142.4M866.6,118 L872,126 L879.6,137.4 L888,149.6 L896.6,162 L904.6,174 L909,180.6" stroke-width="1.10"/>
<path d="M881.2,147.5l0.3,0.7M909.9,182l-0.5,-0.8M862,115.9l0.8,0.1M863.4,118.5l1.1,-0.2M863.4,117.4l0.1,-0.6M873,135.2l0.8,-0.2M861.6,107.9l0.9,-0.6M865.6,111.1l-0.1,-1.2M892.3,147.2l0.2,0.3M895.1,158.1l0.3,-1.2M905,173.4l-0.9,0.5M885.8,149.5l0.8,0.5M862.8,109.3l0.8,-0.5M901.1,171.4l-0.3,-1.2M888.6,153.7l0.4,-1.2M867,125.4l-0.3,-0.8M903.7,166.6l0.7,-0.3M909.8,183.1l-1.1,-0.3M859,107.4l-1,-0.1M869.4,128.6l0.7,-1M882.9,139.8l-0.3,-0.2M884.6,138.7l-0.1,-0.3M908.4,178.2l-0.1,0.8M862.2,114.6l-0.2,-0.6M865.7,111.9l-0.7,-0.1M873.2,131.6l-0.5,-0.1M883.9,140.9l-0.4,-0.2M861.7,112.4l0.7,-1.1M870.3,136.5l-0.7,-0.1M862.3,108.9l-0.3,-0M904.5,167.1l-0.3,-1.1M895.5,164.9l0.3,-0.6M904.7,174.2l-0.4,-1M871.2,136.7l0.7,0M889.1,150.8l0.1,1.2M890.4,145.9l-0.7,-0.1M892.9,163.4l0.3,-0M866,130.5l0.5,0.2M883.8,140.2l0.8,-0.2M882.4,148.4l-0.4,0.4M890.1,145l-0.2,1M910.3,180.1l1.1,0.5M876.5,137.5l0.5,-0.1M872.2,118.6l-0.3,-0.8M886.3,151.7l0,-0.5M905.9,174.1l0.3,0.1M866.9,132.7l-0.3,-0.3M873.1,137.5l0.2,0.6M855,104.7l0.3,-0.9M876.4,127.6l1,0.7M855.2,101.4l-0.7,-0.3M894.4,157.2l-0.1,0.4M906.1,179.7l0.6,-0.4M869.7,130.3l1.1,-0.5M865.5,126.9l-0.4,0.5M874.4,129.2l0.3,0.8M883.4,145.7l0.9,-0.2M855.6,101.3l-0.1,-1.2M874.4,124.7l1,-0.2M880.4,142.9l-0.2,-1M902.1,167.5l0.6,-1M852.7,103.7l0.2,0.5M861.7,119.5l0.5,0.9M882.4,140.9l-0.2,1.3M893.7,149.2l0.3,0.4M870,117.5l0.6,-0.6M901.7,168.9l0.5,0.3M879.5,136.6l0.9,-0.2M883.4,141.8l0.6,0.9M869.3,122.2l0.5,0.3M868.5,124.6l-0.8,0.6M866,112.1l-0.1,-0.6M891.5,158.5l0.3,0.6M896.9,168.8l-0.5,0.4M890.4,149.4l0.6,0.1M872.4,136.1l0.9,0.9M883.4,145.1l-0.5,-0.2M910.2,179.7l-0.3,-0.5M891.1,161.2l-0.7,0.6M878.9,131.4l-0.7,-0.7M896.4,162.5l-1.3,0.1M901.2,172l-0.6,0.4M882.3,141.8l-1.1,0.5M869,130l0,0.4M865.3,121.2l-0.2,0.3M904.7,168.3l-0.5,0.4M853.5,103.5l-0.1,-0.6M905,173.3l-0.1,-0.4M864,121.9l-0.1,-0.5M861.5,115.3l-0.6,-0.9M864.4,121.3l0.9,-0.4M877.1,142.1l-0.3,-0.1M898.1,166.1l0.1,0.8M861.4,107.7l0.8,0.1M876.8,134.2l-0.1,1.1M884.9,143.5l0.1,-0.5M888.1,141.8l-0.1,0.9M860.9,117.1l0.5,0.8M900.8,165.7l0.7,0.3M874.3,121l-0.3,0.2M896.7,160.9l0.1,0.5M872.5,124.6l0.9,-0.1M863.5,125.6l0.3,0.8M860.4,112.4l0.2,0.7M869.2,134.7l1,-0M861.5,117.8l-1,0.8M896.8,159.9l0.3,-0.2M870,128.9l1,0.6M869.4,132.6l-0.4,-0.1M894.4,154.7l0.3,0.4M875,129.1l0.4,-0.4M868.2,125.3l0.1,0.3M876.4,129.7l0.6,0.3M870.4,139.2l-0.1,0.5M874.8,137.2l0.5,0.8M871.2,132.4l0.5,0.7M874.2,127.1l0.7,0.3M870.2,117l0.6,0.1M888.5,150.5l-0.6,0.4M869.2,126.7l0.4,-0.1M862.1,114.7l-0.2,-0.5M883.7,150.9l-1,-0.4M892.6,156.6l1.1,-0.3M880.2,145.3l-0.4,0.4M864.8,116.6l-0.2,0.4M854.3,100.1l0.8,0.6M901.5,169.5l-0.7,-0.3M893.3,150.7l0.5,-1M883.3,138l-0.4,0.4M898.9,170.5l-0.1,0.7M853.6,99.7l0.5,-0.4M879.8,131.7l0.2,-0.7M890.2,150.7l-0.2,1.2M898.4,161l-0.9,0.7M900.6,164l0.4,-0M874,127.6l-0.6,-0.9M871.9,119.3l0.5,-0.3M856.9,106.9l-0.4,0.6M874.9,123.2l-1.2,-0.3M881,145.7l0.9,0.7M886.8,146.2l-0.3,-0M886.4,148.1l0.4,-0.2M878,142.8l0.3,-0.4M902.2,164.3l-1.1,-0.4M902.8,170l0.4,0.3M871,122.6l-0.4,-0.4M858.3,104.4l0.8,-0.3M869.3,131.1l0.6,0.7M875.2,135.6l-1.2,-0.1M875.9,125l0.5,-1" stroke-width="1.10" stroke="#1c1c1c"/>
</g>
<g id="p26l">
<path d="M472.5,201.5 L476.5,199 L481,194.5 L489,193.2 L493.5,195.5 L497.8,193.6 L499.6,198.8 L500.6,203.6 L502,207.6 L499.6,212.6 L501.6,219 L503.6,229 L506.2,238.6 L510.2,251 L514.8,263.5 L519.3,274.5 L519.6,279.6 L516.2,283 L511,281.6 L506.6,277.2 L503.6,270 L500,258 L496.2,245.6 L493.2,233.6 L490.2,223.2 L486.4,213.2 L481.6,207.8Z" stroke-width="1.69"/>
<path d="M476.5,199 L484,203.2 L489.6,210.6 L493.6,221.6 L497,233.6 L500.4,246 L504.2,258.2 L508.2,269.6 L512.2,277.6 L516.4,280.6M484,203.2 L489.6,199.6 L493.5,195.5M489.6,199.6 L496.2,209.6 L499.6,212.6M496.2,209.6 L495.2,216.6 L498.4,228.6 L502,241.2M481,194.5 L483.6,198.8" stroke-width="1.17"/>
<path d="M492.3,207.3l-0.2,-0.3M500.7,226.2l0.8,0.3M482.3,202l-1,0.5M502.3,228.9l0.3,-0.1M485.2,204.4l-0.4,1M497.4,220.4l0.3,-1M507,246.3l-0.7,-0.4M512.7,277.1l-1,0.2M486.1,204.3l1,0.4M511.9,270l-0.1,0.7M499.9,248.3l-0.2,-0.3M515,262.6l0.8,-0.8M495,229.1l0.7,0.6M482,199.9l0.1,0.4M492.9,198.6l0.5,0M493.9,204.8l0.8,-1.1M497.9,236.6l0.3,0.2M493,217.3l0.2,-0.4M500.4,206.9l-0.3,-0.1M492.5,213.6l0.5,-1.2M513.2,264.9l0.4,-0.9M493.5,196.6l0.6,0.1M516.5,280.9l0.6,-0.2M505.3,264.4l0.8,0.5M515.4,262.8l0,-0.8M484.5,207.3l0.9,-0.6M499.3,240.8l-0.3,-0M496.9,210.1l1.1,0M508.1,243l-0.4,0.7M503.7,238.5l-1,-0.1M497.4,240.9l-1.2,0.2M507.1,271.1l0.5,-0.2M510.5,272.9l0.6,0.8M514.4,279.1l0.2,1.2M495.2,236.9l1.1,-0.1M499.9,223.8l0.2,0.6M501.4,232.8l0.6,0.1M504.1,239.1l1.2,0.5M510.6,279.5l0.4,0.3M490.2,205.4l-1.1,0.6M502,255.6l0.3,0.2M504.6,264.5l1,0.6M497.4,223.8l-1.2,-0.4M490.1,205.4l-0.5,-0.1M491.8,220.8l0,-0.6M499.3,209.7l-0.2,0.3M489.4,195.4l-0.1,-0.8M507.4,250l-0.5,0.4M489.6,208.4l1,0.6M490.6,215.3l-0.2,0.7M498.2,238.2l0.2,0.8M491.5,214.5l-0.7,-0.4M509.1,251.9l-0.3,-1.2M494.9,222.7l0.4,-0M508.1,250.6l1.1,0.3M508.5,265.5l0.5,0.6M511.3,266.7l-1,-0.6M506.5,255l0,0.3M501.6,249.2l-0.7,-0.7M511,259.8l-0.8,-0M499,227.7l-1,0.1M509.8,248.3l-0.2,-0.3M506,254.9l-0.3,-0.5M499.9,234.9l-0.4,0.1M518.1,276.4l0.8,0.1M511.9,279.2l-0.5,0.2M497.3,220.6l0.4,0.5M494.2,228.6l0.9,-0M490.4,198.2l0.9,0.7M499.7,210.7l-0.9,0.9M514.4,265.5l-0.8,-0.9M509.2,250.7l-0.1,0.3M498.2,224.2l-0.3,1M501.5,228.7l0.2,0.4M499.1,213.4l1.1,-0.7M497.3,206.3l0.1,0.4M493,202l0,0.6M494.4,223.8l0.5,0.2M499.4,249.4l0.3,-0.4M490.2,215.9l-0.6,0.4M517.2,268.7l0.2,-0.2M512.1,269.3l0.5,-0.1M500.1,254l1,-0.4M505.1,261.3l-0.8,0.2M504.6,255.5l0.3,0.2M500.2,245.3l-0.4,0.3M491.6,195.9l-1,0M496.1,216.6l-0.6,-1.1M488.5,197l-0.4,0.6M511,259l-0.5,-0M499.1,210.5l0.1,0.7M485.1,198.6l0.6,0.3M515,271.8l-0.1,-1.3M494.3,223.2l0.1,0.3M480.9,199.5l0.5,-0.3M509,273.1l-0.3,0.5M492,218.3l1.1,0M517.3,277.9l-0.4,0.4M496.5,237.4l0.4,-0.2M511.2,259l0.5,-1M489.3,199.7l0.8,0.2M514.4,280.9l-0,0.4M504,253.3l-0,-1.1M501.9,226.8l-0,-0.5M489.3,215.6l0.7,1M502.3,222.7l-1,0.8M499.5,214.4l0.3,-0.9M512.7,274.5l0.6,0.1M503,248.6l0.1,0.7M491.8,211.9l0.2,-0.8M482,202.9l-0.7,0.5M495.7,218.9l-0.4,1.2M493.9,211.4l-0.1,-0.5M497.7,208.3l0.8,0.1M511.3,279.1l0.1,0.4M516.8,279.8l-0.4,0M500,227.8l0.4,0.4M508.1,273l0.8,0.2M503.2,242.4l-0.4,-0.4M497.1,232.6l0.9,0.1M498.8,214.7l0.1,-1.1M497.6,209.8l-0.4,0.1M508.5,262.4l-0.4,-0M499.4,227.3l0.4,-0.1M508.4,265.7l0.4,1.2M510.6,275.9l0.6,0.3M499.5,222.1l0.5,0.1M506.3,272.8l0.5,0.9M504.4,228.7l0.2,-0.5M497,209.6l-0,-0.3M502.6,252.4l-0.1,0.3M503.8,232l-1.2,-0.1M504.1,235.8l0.8,0.9M489.1,207.1l0.8,0.5M513.9,262.8l-0.5,0.3M501.7,224.8l-0.5,-0.6M495.5,214.9l1,0.4M499.5,250.5l0.2,-0.4M491.7,220.4l1.1,0.4M510.4,257l1.1,0M488.4,203.3l0,0.3M507,268.4l-0.1,-0.5M501.4,232.4l0.2,-0.8M489.8,214.8l-0,-1.2M504.4,255l-0.6,-1.1M507.1,269.5l-0.9,0.4M502,221.1l0.2,0.9M485.2,196.4l1,0.8M493.1,206.5l0.3,0.1M506.9,249.8l-0.3,-1" stroke-width="1.04" stroke="#222"/>
<path d="M485.9,204.6l-0.7,0.7M493.9,195.8l1.2,0.1M486.3,198.9l0.8,-0M498.2,203.4l-0.3,-0.4M494.1,210.6l-1.1,-0.2M494.8,195.8l0,-0.9M498.8,203.3l-0.2,-1.2M495.7,211.5l-0.9,0.7M483.8,198.6l0.8,-0.2M493.9,200.1l-0.7,-0M488.2,205.4l-1.1,-0.7M495,211.7l0.9,-1.1M494.8,197.6l0.9,-1M499.6,205.1l-0.1,-0.5M498.1,205.2l-0.1,0.4M498.6,212.8l1,0.6M489.5,197.4l-0.3,1.1M493.7,195.4l-0.1,-0.7M499.1,212.6l-1.4,-0M493.4,195.2l0.2,0.7M493.6,197.5l1.2,0.3M499.5,201.6l-0.8,0.2M494.3,205.6l-0.9,-0.4M500.4,203.9l-1,0.5M485.9,200.1l0.9,-0.1M489.6,205.3l1,0.1M494,195.7l-0.6,-0.6M495,201.1l-0.3,-1.1M494.9,212.3l-0,0.8M493.2,200.5l-0.4,0.5M488.6,205.6l-0.2,0.7M496.9,195.1l-1,-0.5M487.4,198.7l0.2,-0.5M484.9,202.6l-0.1,-0.4M487.6,200.7l0.4,-0.7M487.9,206.6l0.6,-0.5M485.6,196.8l-0.5,-0.1M497.6,210l0.2,0.6M497.6,206.4l0.2,-0.6M483.7,200l0.2,-0.6M488.1,202.3l-0.7,0.4M499.1,212.8l-1.2,0.5M496.4,210l-0.5,-0.7M487,200.9l0.1,0.4M493.1,199.9l0.1,-0.3" stroke-width="1.17" stroke="#222"/>
<circle cx="506.8" cy="239" r="1.6" stroke-width="1.17"/><circle cx="510.5" cy="262.5" r="1.2" stroke-width="1.04"/><circle cx="503.2" cy="247.2" r="1" stroke-width="1.04"/>
</g>
<g id="p8">
<path d="M544.2,200 C543.6,200.3 542,201 540.5,201.6 C539,202.2 537.2,203.1 535,203.8 C532.8,204.5 529.5,205.2 527.5,205.8 C525.5,206.4 524.2,206.7 523.2,207.6 C522.2,208.5 521.7,210.6 521.4,211.2 L521.4,229.6 L520,232.2 L516.6,232.6 " stroke-width="2.60"/>
<path d="M516.6,232.6 L512.6,235 L509.2,237.6 L506.6,239.8" stroke-width="2.60"/>
<path d="M542.6,198.6 L545.2,199 L545,201.4 L542.8,201.4Z" stroke-width="1.56" fill="#111"/>
</g>
<g id="p7">
<path d="M579.5,199.6 L583.4,199 L585.8,204.6 L589.6,213 L599.8,209.2 L602.4,213.6 L605.6,223.2 L604.4,227.2 L598.6,233.2 L596.6,236.6 L599,243.6 L602.4,250.6 L603,253.6 L601.2,254.4 L599.4,252 L596.4,245 L593.4,237.8 L594.2,234 L599.8,228.2 L601.8,224.8 L599.4,216.8 L598,213.8 L588,217.4 L585.2,214.2 L582.6,207.2 L580.2,202.2Z" stroke-width="1.43"/>
<path d="M583.4,199 L582.2,202 L585,210 L587.8,215.4 L597.6,211.6M603.4,221 L602.6,226 L596.4,232.6" stroke-width="1.04"/>
<circle cx="601.6" cy="221.4" r="0.9" stroke-width="1.04"/>
</g>
<g id="p10">
<path d="M591.6,195.6 C591.9,194.7 592.7,193.1 593.6,192.2 C594.5,191.3 595.9,190.5 597.2,190.2 C598.5,189.9 600.3,189.9 601.4,190.4 C602.5,190.9 603.3,191.9 603.6,193 C603.9,194.1 603.9,195.8 603.4,196.8 C602.9,197.8 601.7,198.5 600.6,198.8 C599.5,199.1 597.6,198.9 596.6,198.6 C595.6,198.3 595.4,197 594.6,196.8 C593.8,196.6 592.5,197.8 592,197.6 C591.5,197.4 591.3,196.5 591.6,195.6Z" stroke-width="1.56"/>
<path d="M595.4,192.4 L596.6,198.2M599.6,190.6 L600.6,198.4M591,195.2 L589.8,196.6 L591.8,197.8" stroke-width="1.04"/>
</g>
<g id="p28">
<path d="M536.6,239.8 C536.9,238.6 538.2,237.8 539.2,237.6 C540.2,237.4 541.7,237.7 542.6,238.4 C543.5,239.1 544.4,240.4 544.8,241.6 C545.2,242.8 545.5,244.4 545.2,245.4 C544.9,246.4 543.9,247.3 543,247.6 C542.1,247.9 540.6,247.7 539.6,247.2 C538.6,246.7 537.7,245.8 537.2,244.6 C536.7,243.4 536.3,241 536.6,239.8Z" stroke-width="1.69"/>
<path d="M538.6,240.2 L540.4,246.6M542,239 L543.6,246.6M537,242 L539,241.4" stroke-width="1.04"/>
</g>
<g id="p23">
<circle cx="555.4" cy="257.6" r="2.6" stroke-width="1.56"/><circle cx="555.4" cy="257.6" r="0.9" stroke-width="0.91"/>
<path d="M554,260 L535.6,314.6M556.6,260.6 L538.2,315.4" stroke-width="1.30"/>
<path d="M532.6,279 L536.2,278 L540.4,280 L541.2,283.6 L543.4,289.2 L541.6,298 L539,309 L537.2,317 L535,328.6 L532.8,340.6 L533.6,346 L537.6,352.4" stroke-width="1.43"/>
<path d="M532.6,279 L532.4,284 L531,293.6 L527,294.6 L512.4,297.6 L511.4,300.6 L513,304.6 L526.4,305.8 L526.8,310.6 L525.2,319.6 L523.6,328.6 L520,337.2 L516.2,345.6 L514.4,350.2 L511.6,352.6" stroke-width="1.43"/>
<path d="M536.2,278 L535.4,286 L533.4,297 L531,310 L528.6,323 L526.4,333.6 L523,342 L519.6,350.6M540.4,280 L539.2,290 L536.8,303 L534.4,316 L531.8,329 L529.6,340 L528,346.6 L530,351M531,293.6 L530.4,297.6 L526.4,305.8M532.4,284 L540,285.6M527.4,320 L535.6,321.6M524,333 L531.4,335M520,337.2 L527.6,346.4M516.4,300.4 L519.6,301" stroke-width="1.04"/>
<circle cx="515.2" cy="301" r="1.1" stroke-width="1.04"/><circle cx="523.4" cy="301.2" r="1.1" stroke-width="1.04"/><circle cx="535.4" cy="319" r="1.2" stroke-width="1.04"/><circle cx="538" cy="296" r="0.9" stroke-width="1.04"/>
<path d="M514.6,346.6 L512.4,346.2 L512.2,348.6M510.4,352.4 L508.4,352 L508.6,355" stroke-width="1.17"/>
<path d="M507,367.7 C507.1,364.7 507.4,362.5 508,360.6 C508.6,358.7 509.4,357.8 510.4,356.4 C511.4,355 512.6,353.3 514,352.4 C515.4,351.5 516.7,351.3 519,351 C521.3,350.7 525.2,350.5 528,350.6 C530.8,350.7 534.1,350.6 535.8,351.4 C537.5,352.2 537.9,353.8 538.4,355.6 C538.9,357.4 538.8,359.6 538.8,362 C538.8,364.4 538.5,367.5 538.2,370 C538,372.5 537.8,374.8 537.3,377 C536.8,379.2 536,381.3 535,383 C534,384.7 533,386.5 531.2,387.4 C529.4,388.3 526.5,388.6 524,388.6 C521.5,388.6 518.2,388.2 516,387.4 C513.8,386.6 512,385.5 510.6,384 C509.2,382.5 508,381.3 507.4,378.6 C506.8,375.9 506.9,370.7 507,367.7Z" stroke-width="1.56"/>
<circle cx="521.6" cy="371.6" r="10" stroke-width="1.17"/><circle cx="521.6" cy="371.6" r="2.2" stroke-width="1.17"/><circle cx="521.6" cy="371.6" r="0.8" stroke-width="0.91"/>
<path d="M524,372.1 L530.3,375.6 L528.6,378.2 L522.9,373.6M522.9,373.6 L524.9,380.6 L521.9,381.2 L521.1,374M521.1,374 L517.6,380.3 L515,378.6 L519.6,372.9M519.6,372.9 L512.6,374.9 L512,371.9 L519.2,371.1M519.2,371.1 L512.9,367.6 L514.6,365 L520.3,369.6M520.3,369.6 L518.3,362.6 L521.3,362 L522.1,369.2M522.1,369.2 L525.6,362.9 L528.2,364.6 L523.6,370.3M523.6,370.3 L530.6,368.3 L531.2,371.3 L524,372.1" stroke-width="1.10"/>
<path d="M510.4,356.4 L515,359 L528,358 L538.4,355.6M507.4,378.6 L511,380.6 L514,385.6M535,383 L531,381 L529.6,387.6M513,353.6 L514.6,358.6M533,351.4 L532.4,357.2" stroke-width="1.04"/>
<path d="M514.6,387.2 L512.6,392 L513.6,396.6 L511.8,401.6 L511,410.6 L512.4,415 L516,416.6 L519.4,415 L520.6,408.6 L521.6,399.6 L524.6,394.8 L529.4,392.4 L531,388" stroke-width="1.56"/>
<path d="M515.6,391 L516.6,397 L515.2,404 L514.8,411.6 L516.8,413.8M519,391 L519.6,397.6 L518.2,404 L517.6,410M522.4,389.6 L522.6,394.6M526,389 L526.6,393" stroke-width="1.04"/>
<circle cx="516" cy="408" r="1" stroke-width="0.91"/><circle cx="517.4" cy="400" r="1" stroke-width="0.91"/>
</g>
<g id="p24">
<path d="M555.6,301.2 C555.9,300.3 556.9,300.1 557.6,300 C558.3,299.9 559.4,300.2 560,300.8 C560.6,301.4 561,302.5 561,303.4 C561,304.3 560.6,305.6 560,306.2 C559.4,306.8 558.3,307.1 557.6,307 C556.9,306.9 555.9,306.6 555.6,305.6 C555.3,304.6 555.3,302.1 555.6,301.2ZM555.6,302.4 L551.4,302.6 L551.2,305.2 L555.6,305.4" stroke-width="1.43"/>
<path d="M557.6,300.4 L557.8,306.8" stroke-width="1.04"/>
<path d="M546.6,388.6 C546.9,387.7 547.9,387.5 548.6,387.4 C549.3,387.3 550.4,387.6 551,388.2 C551.6,388.8 552.2,389.9 552.2,390.8 C552.2,391.7 551.8,393 551.2,393.6 C550.6,394.2 549.6,394.5 548.8,394.4 C548,394.3 547,394 546.6,393 C546.2,392 546.3,389.5 546.6,388.6ZM546.6,389.8 L542.6,390 L542.4,392.6 L546.6,392.8" stroke-width="1.43"/>
<path d="M548.6,387.8 L548.8,394.2" stroke-width="1.04"/>
</g>
<g id="p25">
<path d="M610.2,265.8 C610.3,264.9 610.7,263.3 611.4,262.8 C612.1,262.3 613.9,262.5 614.6,263 C615.3,263.5 615.6,265 615.4,266 C615.2,267 614.4,268.4 613.6,268.8 C612.8,269.2 611.4,268.7 610.8,268.2 C610.2,267.7 610.1,266.7 610.2,265.8Z" stroke-width="1.56"/>
<path d="M610.6,268.4 L611.6,271.8 L632.2,341M615.2,267.6 L616.8,271 L637.4,339.6M611.6,271.8 L616.8,271M632.2,341 L637.4,339.6M612.6,275 L617.8,274.2" stroke-width="1.30"/>
<path d="M634,341 L637.2,351.8M636.2,340.4 L639.6,351" stroke-width="1.17"/>
<path d="M636,352.2 L641,350.6 L642.4,354.8 L637.4,356.4ZM637.4,356.4 L638.6,360 L640.6,363 L643.4,362.6 L644.6,360 L643.4,358 L642.4,354.8M638.6,360 L643.4,358" stroke-width="1.30"/>
</g>
<g id="p12">
<ellipse cx="793" cy="392.6" rx="4.6" ry="2.8" transform="rotate(12 793 392.6)" stroke-width="1.56"/>
<path d="M788.6,392.2 L787.6,401.6M797.6,393.6 L795.6,403.4M787.6,401.6 C787.9,402.1 788.7,404.1 789.6,404.8 C790.5,405.5 792,405.8 793,405.6 C794,405.4 795.2,403.8 795.6,403.4" stroke-width="1.43"/>
<path d="M789,394.8 C789.6,395 791.3,396.1 792.6,396.2 C793.9,396.3 796.3,395.7 797,395.6" stroke-width="1.04"/>
</g>
<g id="p14">
<path d="M903.6,269.6 L910.6,266 L925,270.2 L925,282.8 L916,285.6 L903.6,281.6Z" stroke-width="1.56"/>
<path d="M903.6,269.6 L915.6,273.6 L925,270.2M915.6,273.6 L916,285.6M910.6,266 L912,269.2 L922.4,272" stroke-width="1.17"/>
<circle cx="920.6" cy="277.6" r="2" stroke-width="1.17"/><circle cx="920.6" cy="277.6" r="0.8" stroke-width="0.91"/>
</g>
<g id="p13">
<path d="M913.8,299 C914,297.3 914.4,296.4 915,295.4 C915.6,294.4 916.3,293.6 917.6,293.2 C918.9,292.8 921.4,292.5 922.6,292.8 C923.8,293.1 924.4,294 925,295 C925.6,296 925.8,296.9 926,298.6 C926.2,300.3 926.1,302.9 926.1,305 C926.1,307.1 926.1,309.2 925.8,311 C925.5,312.8 925,314.3 924.4,315.6 C923.8,316.9 923.1,318.4 922.2,319 C921.3,319.6 919.8,319.7 918.8,319.3 C917.8,318.9 916.8,317.6 916,316.4 C915.2,315.2 914.4,313.8 914,312 C913.6,310.2 913.6,307.8 913.6,305.6 C913.6,303.4 913.6,300.7 913.8,299Z" stroke-width="1.76"/>
<circle cx="920.4" cy="296.6" r="1.2" stroke-width="1.04"/><circle cx="920.4" cy="315.4" r="1.2" stroke-width="1.04"/>
</g>
<g id="p15">
<circle cx="937.6" cy="321" r="4.6" stroke-width="1.56"/>
<path d="M936.6,316.4 L937.4,313.4 L938.8,316.4M935,325 L935.6,327.4 L939.6,327.4 L940,325.2M934.6,320 C935.1,320.3 936.6,322 937.6,322 C938.6,322 940.1,320.3 940.6,320" stroke-width="1.17"/>
</g>
<g id="p20">
<path d="M920.1,377.6 L894,382.3 L892.4,383.9 L892.4,395.1 L894.6,396.7 L920.1,393" stroke-width="1.76"/>
<path d="M895.4,385.6 C895.8,384.7 896.8,384.5 897.6,384.4 C898.4,384.3 899.6,384.4 900.2,385 C900.8,385.6 900.9,386.7 901,388 C901.1,389.3 901.2,391.4 901,392.6 C900.8,393.8 900.6,394.5 900,395 C899.4,395.5 898.3,395.5 897.6,395.4 C896.9,395.3 896,395.3 895.6,394.4 C895.2,393.5 895,391.5 895,390 C895,388.5 895,386.5 895.4,385.6Z" stroke-width="1.17"/>
<circle cx="897.6" cy="390" r="1.5" stroke-width="1.04"/>
<path d="M901.8,385 L920,380.9M901.8,388 L920,383.9M901.8,391 L920,386.9M901.8,394 L920,389.9" stroke-width="1.17"/>
<path d="M901.6,381.2 L901.8,396M905.6,380.4 L905.8,395.2" stroke-width="1.04"/>
<path d="M920.1,377.6 L921,375.8 L926,375.4 L927.6,378 L927.6,394.6 L925,396.6 L921,396.2 L920.1,393Z" stroke-width="1.69"/>
<path d="M923.6,375.8 L923.6,396.2" stroke-width="1.04"/>
<path d="M908,380 L908.4,372.6 L910.6,369.6 L915,367.8 L921,367.4 L925,368 L927.4,370.6 L927.6,378" stroke-width="1.76"/>
<path d="M912.6,369.8 L921,369 L921.4,373.8 L913,374.8ZM922.6,369.2 L926.4,369.6 L926.8,372.8 L923,373ZM908.4,372.6 L912,375.6 L920,375M912,375.6 L912.4,379.2M915.6,370.4 L915.8,374M910.6,369.6 L912.6,369.8" stroke-width="1.17"/>
<path d="M927.6,378.1 L931,376 L957,373.3 L958.4,374.9 L958.4,386.6 L930.7,391.9 L927.6,391" stroke-width="1.69"/>
<path d="M927.6,380 L931.4,378.6 L958.4,375.6M931.4,378.6 L931.4,391.6" stroke-width="1.10"/>
<path d="M958.4,375.4 L963.7,376.6 L963.7,385 L958.4,386.4M960.7,376.4 L960.9,385.2" stroke-width="1.56"/>
<path d="M905,398.4 L901,400 L901.4,408.6 L902.6,410.4 L906,410.6 L920,407.8 L940,403 L953.1,399.6 L953.1,394 L949,393.6 L948.6,390.6 L946,390 L930.7,392.6" stroke-width="1.76"/>
<path d="M901,400 L905.6,402.4 L906,410.6M905.6,402.4 L916,400.6 L940,396.6 L953.1,394M908,397.8 L908.4,402M913,403.6 L913.4,408.6M905,398.4 L905.2,396.6M916,395 L916,400.6M932,392.4 L932.6,397.6M937.6,391.4 L938.2,396.6M943,390.6 L943.6,395.6M935,394.6 L941,393.6M928,395.6 L928.4,398.6" stroke-width="1.17"/>
<circle cx="919.6" cy="397.6" r="1.8" stroke-width="1.17"/><circle cx="909.6" cy="405.6" r="0.9" stroke-width="1.04"/>
</g>
<g id="p21">
<path d="M971.6,398 C971.9,397.4 972.8,394.8 973.6,394.4 C974.4,394 975.5,394.7 976.2,395.6 C976.9,396.5 977.4,398.9 977.6,399.6M971.6,398 L973,408M977.6,399.6 L978.6,407.6M973,408 C972.7,408.3 971.1,409.2 971,410 C970.9,410.8 971.7,412 972.6,412.6 C973.5,413.2 975.4,413.6 976.6,413.4 C977.8,413.2 979.4,412.3 980,411.6 C980.6,410.9 980.4,409.7 980.2,409 C980,408.3 978.9,407.8 978.6,407.6" stroke-width="1.43"/>
<path d="M973,408 C973.5,408.2 975.1,409.1 976,409 C976.9,408.9 978.2,407.8 978.6,407.6" stroke-width="1.04"/>
<path d="M891.6,425.4 L896,423.4 L902,424.4 L899.6,427.6 L893.6,427.6ZM894.6,427.6 L898,441 L899.6,442.8 L902.6,441.6 L902.8,439.6 L899.6,427.6" stroke-width="1.43"/>
</g>
<g id="p17">
<path d="M911.7,441.5 L913.8,438.6 L917.6,437.4 L923.4,438.3 L926.6,446 L929.8,454.3 L935.1,454.7 L935.2,456.8 L909.8,462.9 L909.5,461 L910.6,459.2 L916,456.4Z" stroke-width="1.69"/>
<path d="M911.7,441.5 L921.3,441.9 L924.5,455.3 L916,456.4M921.3,441.9 L923.4,438.3M924.5,455.3 L929.8,454.3M910.6,459.2 L935.1,454.7M914.6,443.6 L918,455.6M918.4,443.6 L921.4,455" stroke-width="1.17"/>
</g>
<g id="p19">
<ellipse cx="909" cy="482" rx="5.4" ry="2.8" transform="rotate(8 909 482)" stroke-width="1.56"/>
<path d="M906,484.6 L906.6,498 L908.4,500.4 L910.8,499.6 L912.6,485M906.4,481.4 L911.6,482.6M908,480.2 L910.4,484" stroke-width="1.30"/>
</g>
<g id="p18">
<path d="M910.4,513 C910.7,512.1 911.5,510.6 912.6,509.6 C913.7,508.6 915.1,507.5 916.7,506.8 C918.3,506.1 920,505.7 922,505.4 C924,505.1 927,504.7 929,504.8 C931,504.9 932.5,505.3 934,505.8 C935.5,506.3 937.1,507.1 938.2,507.9 C939.3,508.7 940.3,509.5 940.8,510.4 C941.3,511.2 941.4,512.2 941,513 C940.6,513.8 939.6,514.7 938.6,515.4 C937.6,516.1 936.5,516.7 935.1,517.2 C933.7,517.7 931.9,518.3 930,518.6 C928.1,518.9 925.9,519.2 923.9,519.2 C921.9,519.2 919.7,519 918,518.6 C916.3,518.2 914.9,517.6 913.7,517 C912.5,516.4 911.5,515.9 911,515.2 C910.5,514.5 910.1,513.9 910.4,513Z" stroke-width="1.89"/>
<path d="M914.2,512.8 C914,511.9 915.1,511 916,510.2 C916.9,509.4 917.4,508.7 919.6,508.2 C921.8,507.7 926.5,507.1 929,507.2 C931.5,507.3 933.2,508 934.6,508.6 C936,509.2 937.1,510.2 937.4,511 C937.7,511.8 937.3,512.8 936.6,513.6 C935.9,514.4 935.1,515 933,515.6 C930.9,516.2 926.7,517 924,517 C921.3,517 918.6,516.5 917,515.8 C915.4,515.1 914.4,513.7 914.2,512.8Z" stroke-width="1.04"/>
<path d="M922.6,500.6 L922.8,512 L920,515.6M927.8,500.4 L927.6,511.6 L930.8,514.8M922.6,500.6 L927.8,500.4M922.8,512 L927.6,511.6M925.2,501 L925.2,511.8M920,515.6 L930.8,514.8" stroke-width="1.23"/>
<circle cx="917.6" cy="512" r="1.3" stroke-width="0.91"/><circle cx="934" cy="511" r="1.3" stroke-width="0.91"/>
</g>
<g id="p16">
<path d="M954.2,462.6 C955,461.5 955.8,460.2 958.4,459 C961,457.8 966,456.8 970,455.6 C974,454.4 978.3,453.3 982.6,451.9 C986.9,450.5 991.8,448.5 996,447 C1000.2,445.5 1005.1,443.8 1008.1,442.7 C1011.1,441.6 1012.3,440.6 1013.8,440.6 C1015.3,440.7 1016.4,441.8 1017,443 C1017.6,444.2 1017.7,446 1017.6,448 C1017.5,450 1017.2,452.3 1016.6,455 C1016,457.7 1014.8,461.7 1013.8,464 C1012.8,466.3 1011.8,467.2 1010.6,468.6 C1009.4,470 1008.5,471.2 1006.7,472.5 C1004.9,473.8 1002.4,475 1000,476.2 C997.6,477.4 995.5,478.5 992.5,479.6 C989.5,480.7 985.5,481.9 982,483 C978.5,484.1 973.7,485.4 971.2,486 C968.7,486.6 968.2,486.5 967,486.4 C965.8,486.3 965.1,485.8 964.1,485.2 C963.1,484.6 961.8,483.5 961,482.6 C960.2,481.7 959.8,480.9 959.1,479.6 C958.4,478.3 957.3,476.3 956.6,474.6 C955.9,472.9 955.4,471.1 954.9,469.6 C954.4,468.1 953.9,466.8 953.8,465.6 C953.7,464.4 953.4,463.7 954.2,462.6Z" stroke-width="2.21"/>
<path d="M959.1,466.8 L984,460 L1008.1,453.3 L1011.6,452.6 L1011.6,455 L1010.2,459.7 L1006.6,465 L1002.4,469.6 L990,475 L971.2,481 L968,481 L965.5,479.6 L962.6,475.6 L959.9,471Z" stroke-width="1.17"/>
<path d="M962,468.6 L984,462.6 L1006,456.6 L1003,463 L999,467.6 L988,472.6 L971,478 L968,477 L964.6,472.4ZM968,477 L965,470.6 L962,468.6M999,467.6 L995,462 L993.6,460M959.6,468.6 L962,470" stroke-width="1.04"/>
<path d="M966,457 L1008,444.6M967,459.6 L1002,449.6" stroke-width="1.04"/>
<path d="M956.6,460 L955.1,441.5 L957.6,439 L961,437.5 L965.7,438.4 L968.6,446.6 L970.6,451.6M967,441 L968.4,436.4 L971,434.6 L974.2,436 L976.4,444 L978.6,449M974.8,437.4 L976,432.4 L979,430.8 L982.6,431.2 L986,435 L990.5,441 L991.6,445" stroke-width="2.21"/>
<path d="M992.7,431.6 L998.3,430.4 L1000.4,440.8 L994.8,442.4Z" stroke-width="1.95"/>
<path d="M1000.4,440.8 L1004.6,439.6 L1005,442.4M1001.6,438.6 L1002.4,441.6" stroke-width="1.69"/>
<path d="M956.5,443L966.8,441.9M956.7,445L967.3,443.5M957,447L967.7,445.1M957.2,449L968.2,446.7M957.4,451L968.6,448.3M957.7,453L969.1,449.9M957.9,455L969.6,451.5" stroke-width="1.04" stroke="#222"/>
<path d="M958.6,441 L962.6,455M962,439.4 L966.6,452.6M970.6,437 L974.6,449.6M978,434 L983.6,446.6M982,433.6 L988,445M972,441 L975.6,440M979.6,438.6 L984.6,437M976,444.6 L984,442.4 L987.6,446.6 L979,449.2ZM957,457.6 L966,455" stroke-width="1.23"/>
</g>
<g id="p31">
<path d="M526.3,478.9 C528.6,479.3 535.2,480.9 540,481.6 C544.8,482.3 550.5,482.7 555,483 C559.5,483.3 562.1,483.3 567.1,483.2 C572.1,483.1 579.2,482.9 585,482.4 C590.8,481.9 594.4,481.5 601.9,480.3 C609.4,479.1 619.9,477.1 630,475 C640.1,472.9 653.5,470 662.7,467.6 C671.9,465.2 677.8,462.9 685,460.6 C692.2,458.3 699.5,455.9 706.2,453.7 C712.9,451.5 719.2,449.5 725,447.6 C730.8,445.7 737.2,443.7 740.9,442.4 C744.6,441.1 745.1,440.6 747,439.6 C748.9,438.6 751.3,436.9 752.2,436.3" stroke-width="2.47"/>
<path d="M526.8,483.6 C529,483.9 535.8,484.8 540,485.2 C544.2,485.6 548,485.9 552.2,486.1 C556.4,486.3 560.9,486.4 565,486.4 C569.1,486.4 571.4,486.6 577.1,486.1 C582.8,485.6 591.1,484.8 599.4,483.6 C607.7,482.4 616.1,480.8 626.7,478.7 C637.3,476.6 653.1,473.2 662.8,471 C672.5,468.8 677.6,467.4 685,465.4 C692.4,463.4 700.2,461.3 706.9,459.2 C713.6,457.1 718.8,455.2 725,453 C731.2,450.8 739.9,447.9 744.1,446.1 C748.3,444.3 748.2,443.8 750,442.4 C751.8,441 753.9,438.7 754.7,438" stroke-width="1.76"/>
<path d="M558.7,486.3L555.8,490.5M561.4,486.3L558.5,490.5M564.2,486.4L561.3,490.6M566.9,486.4L564,490.7M569.6,486.3L566.7,490.7M572.3,486.2L569.4,490.6M575.1,486.2L572.2,490.5M577.8,486L574.9,490.5M580.5,485.7L577.6,490.4M583.2,485.4L580.3,490.1M585.9,485.1L583,489.8M588.6,484.8L585.8,489.5M591.3,484.5L588.5,489.2M594.1,484.2L591.2,488.9M596.8,483.9L593.9,488.6M599.5,483.6L596.6,488.3M602.2,483.1L599.3,488M604.8,482.6L602,487.5M607.5,482.1L604.7,487M610.2,481.7L607.4,486.5M612.9,481.2L610,486.1M615.6,480.7L612.7,485.6M618.3,480.2L615.4,485.1M620.9,479.7L618.1,484.6M623.6,479.3L620.8,484.1M626.3,478.8L623.5,483.7M629,478.2L626.1,483.2M631.7,477.6L628.8,482.6M634.3,477.1L631.5,482.1M637,476.5L634.2,481.5M639.7,475.9L636.8,480.9M642.3,475.4L639.5,480.4M645,474.8L642.2,479.8M647.7,474.2L644.8,479.2M650.3,473.7L647.5,478.7M653,473.1L650.2,478.1M655.7,472.5L652.8,477.5M658.3,472L655.5,476.9M661,471.4L658.2,476.4M663.6,470.8L660.8,475.8M666.3,470.1L663.5,475.2M668.9,469.5L666.1,474.6M671.6,468.8L668.8,473.9M674.2,468.1L671.4,473.2M676.9,467.5L674.1,472.6M679.5,466.8L676.7,471.9M682.2,466.1L679.4,471.2M684.8,465.4L682,470.6M687.4,464.7L684.6,469.9M690.1,464L687.3,469.2M692.7,463.2L689.9,468.4M695.3,462.5L692.5,467.7M697.9,461.7L695.1,466.9M700.5,461L697.8,466.2M703.2,460.3L700.4,465.5M705.8,459.5L703,464.7M708.4,458.7L705.6,464M711,457.8L708.2,463.2M713.6,456.9L710.8,462.3M716.1,456L713.4,461.4M718.7,455.2L716,460.5M721.3,454.3L718.6,459.6M723.9,453.4L721.1,458.8M726.4,452.5L723.7,457.9M729,451.6L726.3,457M731.6,450.6L728.9,456M734.1,449.7L731.4,455.1M736.7,448.8L734,454.2M739.3,447.8L736.6,453.3M741.8,446.9L739.1,452.3M744.4,445.9L741.7,451.4M746.7,444.5L744.3,450.5M749,443L746.6,449.1M751.1,441.4L748.9,447.6" stroke-width="1.10" stroke="#1e1e1e"/>
<path d="M527,486.2 C529.2,486.5 536,487.4 540.2,487.8 C544.4,488.2 548.2,488.5 552.4,488.7 C556.6,488.9 561.1,489 565.2,489 C569.4,489 571.6,489.2 577.3,488.7 C583,488.2 591.3,487.4 599.6,486.2 C607.9,485 622.4,482.1 626.9,481.3" stroke-width="0.91" stroke="#444"/>
<path d="M527.2,488 C529.3,488.3 535.2,489.3 540,489.6 C544.8,489.9 553.3,489.6 556,489.6" stroke-width="0.91" stroke="#444"/>
<path d="M752.2,436.3 C752.7,436.8 754,438 755,439 C756,440 757,441 758.3,442.4 C759.6,443.8 761.4,445.9 763,447.6 C764.6,449.3 767.1,451.9 767.9,452.8M767.9,452.8 C767.2,453.4 765.6,455.4 764,456.6 C762.4,457.8 760.5,458.7 758.3,459.8 C756.1,460.9 753.3,461.9 751,463 C748.7,464.1 746.1,465.4 744.4,466.7 C742.7,468 741.8,469.4 740.6,471 C739.5,472.6 738,475.4 737.5,476.3" stroke-width="1.30"/>
<path d="M737.5,476.3 L700,484.8 L660,493.6 L620,502.4 L593.2,508.1M737.5,476.3 L737.6,478.9 L700,487.6 L660,496.4 L620,505.2 L593.2,511" stroke-width="1.04"/>
<path d="M593.2,511 C592.9,510.4 592.2,508.6 591.6,507.6 C591,506.6 590.6,505.7 589.7,504.9 C588.8,504.1 587.5,503.4 586,503 C584.5,502.6 581.8,502.4 581,502.3M581,502.3 L560,502.8 L540,503.2 L523.7,503.2M523.7,503.2 C523.7,501.8 523.5,497.9 523.6,495 C523.8,492.1 524.2,488.7 524.6,486 C525,483.3 526,480.1 526.3,478.9" stroke-width="1.30"/>
<path d="M555.8,489.2 L553.6,496 L550.6,502.9M599.3,486.6 L600.4,496 L601.9,506.7M724.4,455.2 L727.6,468 L730.5,478M747.9,446.6 L752.6,453 L757.4,458.9M662.7,467.6 L664.6,474M669,490.4 L669.6,493.6" stroke-width="1.04"/>
</g>
<g id="p32" transform="rotate(-8.5 669.8 483.6)" font-family="Liberation Sans, sans-serif" font-weight="700" font-size="13.2" text-anchor="middle">
<text x="669.8" y="487.8" fill="#0a0a0a" stroke="#0a0a0a" stroke-width="4.29" stroke-linejoin="round">Jeep</text>
<text x="669.8" y="487.8" fill="#ffffff" stroke="#0a0a0a" stroke-width="0.45">Jeep</text>
</g>
<g class="lead" stroke="#0c0c0c" stroke-width="1.55">
<path d="M628,45 L663,45.7"/>
<path d="M707.4,62.3 L714,59.1"/>
<path d="M642.7,107.8 L676.9,97.7"/>
<path d="M796,99.5 L795.5,120.5"/>
<path d="M596,137 L625,138"/>
<path d="M882.6,119.7 L877.8,128.3"/>
<path d="M473.8,183.8 L482.5,194.5"/>
<path d="M573.8,170.5 L593,195"/>
<path d="M601,185 L601,191"/>
<path d="M558,197.5 L579.5,200"/>
<path d="M571,261 L595,240"/>
<path d="M488.8,335.5 L522.5,325"/>
<path d="M488.8,341.3 L514.5,347.5"/>
<path d="M551,348.8 L558,306"/>
<path d="M549,367.5 L549,387.5"/>
<path d="M599.5,328 L625,321"/>
<path d="M746,331 L766,312"/>
<path d="M926,299.4 L933.8,299.4"/>
<path d="M903.8,342.2 L935.1,324.9"/>
<path d="M805.6,371.8 L908.2,361.2 L985.5,316 L1006.4,316"/>
<path d="M805.6,371.8 L888.2,373 L803,422.5 L803,438"/>
<path d="M941.2,429.1 L972.2,413.5"/>
<path d="M921.7,432.1 L899.5,426.8"/>
<path d="M924.1,463.4 L924.1,482.5"/>
<path d="M991,482.5 L991,501.7"/>
<path d="M867,503.5 L904.5,494"/>
<path d="M885.3,536.1 L910.8,515.7"/>
<path d="M766,421 L787,403"/>
<path d="M575.5,505.2 L562,534"/>
<path d="M670,490.2 L660.8,528"/>
</g><g class="lbl" fill="#0a0a0a" stroke="#0a0a0a" stroke-width="0.3" font-family="Liberation Sans, sans-serif" font-size="15" text-anchor="middle">
<text x="621.5" y="49.5">3</text>
<text x="720" y="60">2</text>
<text x="636" y="114">4</text>
<text x="796" y="95.5">1</text>
<text x="590" y="141.5">6</text>
<text x="887.3" y="114.8">26</text>
<text x="467" y="180.8">26</text>
<text x="568.8" y="167">10</text>
<text x="597.5" y="180.3">11</text>
<text x="551.8" y="201.3">8</text>
<text x="553" y="240">28</text>
<text x="566" y="270.5">7</text>
<text x="477.5" y="343.3">23</text>
<text x="548" y="364">24</text>
<text x="588" y="335.5">25</text>
<text x="739.5" y="341.8">30</text>
<text x="924.2" y="263.3">14</text>
<text x="944.2" y="303.2">13</text>
<text x="894.6" y="352.2">15</text>
<text x="967.3" y="371.9">20</text>
<text x="931.4" y="437.5">21</text>
<text x="924.4" y="496">17</text>
<text x="991" y="516.5">16</text>
<text x="859.8" y="508.5">19</text>
<text x="876.9" y="546.2">18</text>
<text x="758.4" y="432.2">12</text>
<text x="557" y="547.5">31</text>
<text x="659" y="539.7">32</text>
</g>
<g id="banner" stroke="none" fill="none">
<rect x="690.2" y="498.2" width="152.8" height="40.4" fill="#121212"/>
<path d="M695.2,513.2 V507.6 a5.3,5.3 0 0 1 10.6,0 V513.2 h-2.7 V508 a1,1 0 0 0 -1.6,0 V513.2 h-2.1 V508 a1,1 0 0 0 -1.6,0 V513.2 Z" fill="#2b50b4"/>
<rect x="694.6" y="514.2" width="11.8" height="2.6" fill="#e9ecf5"/>
<path d="M696.5,514.2v2.6M698.5,514.2v2.6M700.5,514.2v2.6M702.5,514.2v2.6M704.5,514.2v2.6" stroke="#0b0b0b" stroke-width="0.5" fill="none"/>
<g fill="#fff"><path d="M712.6,505 h10.4 l-0.6,3 h-3.4 l-1.9,8.6 h-3.5 l1.9,-8.6 h-3.5 Z"/><path d="M723,505.6 h8.2 l-0.6,2.8 h-2.4 l-2,8.6 h-3.4 l2,-8.6 h-2.4 Z"/></g>
<path d="M724.6,502.6 C727.6,500.6 731.4,500.6 731.6,504.4 C731.8,509.6 728.6,515.6 723.6,518.4 C721,519.8 718.8,519.4 718.2,517.6" fill="none" stroke="#fff" stroke-width="1.1"/>
<text x="733.6" y="517" font-family="Liberation Sans, sans-serif" font-weight="700" font-size="16.6" fill="#fff" stroke="#fff" stroke-width="0.5" textLength="86.6" lengthAdjust="spacingAndGlyphs">JEEP OTOMOTİV</text>
<circle cx="832.8" cy="509.4" r="5.9" fill="none" stroke="#e6e6de" stroke-width="1.5" stroke-dasharray="1.1 0.9"/><circle cx="832.8" cy="509.4" r="4.2" fill="#1a1a1a"/><path d="M832.8,505.2 a4.2,4.2 0 0 0 0,8.4 Z" fill="#dcdcd2"/><path d="M830,506.4 h1.8 v6 h-1.8Z M828.6,508.4 h4.4 v1.8 h-4.4Z" fill="#b8483e"/><path d="M835,505.8 c1.8,1.4 -1.6,2.4 0,3.8 c1.8,1.4 -1.4,2.4 0,3.6" stroke="#4f9a64" stroke-width="1.3" fill="none"/><path d="M833.4,511.4 l2.4,1.6" stroke="#3a8aa0" stroke-width="1" fill="none"/>
<text x="701" y="531.6" font-family="Liberation Sans, sans-serif" font-weight="700" font-size="8.6" fill="#2c5348" textLength="14.4" lengthAdjust="spacingAndGlyphs">Jeep</text>
<path d="M720,527 q3,-2.4 6,-0.6 t6,-0.6 t6,-0.2 t5,-0.4 M722,530.6 q4,1.6 8,-0.6 t9,-1.6" stroke="#8d8d8d" stroke-width="0.8" fill="none" stroke-dasharray="2.2 0.9"/>
<text x="747.2" y="530.6" font-family="Liberation Sans, sans-serif" font-weight="700" font-size="6.6" fill="#e8e8e8" textLength="20" lengthAdjust="spacingAndGlyphs">ABARTH</text>
<path d="M768.6,530.6 l2,-7.6 h2 l-2,7.6Z M771.8,530.6 l2,-7.6 h2 l-2,7.6Z" fill="#c8372d"/>
<path d="M778.8,521 h8.8 v7 l-4.4,4.2 l-4.4,-4.2Z" fill="none" stroke="#f2f2f2" stroke-width="1.1"/><path d="M781,523.4 h4.4 v3.6 l-2.2,2 l-2.2,-2Z" fill="#cfcfcf"/><rect x="777.8" y="534" width="10.8" height="1.4" fill="#f2f2f2"/><rect x="782.4" y="531.6" width="1.6" height="2.6" fill="#f2f2f2"/>
<path d="M794.6,522.6 l3.6,-2.4 l1.4,3 l-2,2.4 l1.6,4 l-3,2.4 l-2.4,-3.4 l1.6,-3Z" fill="#c9423a"/><path d="M796,521 l1.6,4.6 l-1.6,5" stroke="#f0e6e0" stroke-width="0.9" fill="none"/><rect x="792.2" y="533.6" width="9.6" height="1.8" fill="#f2f2f2"/>
<path d="M805.6,523.6 l5.8,-3.4 l5.8,3.4 v5.2 c0,3.2 -3,5.6 -5.8,6.8 c-2.8,-1.2 -5.8,-3.6 -5.8,-6.8Z" fill="#22347c"/><path d="M807.4,524.8 l4,-2.4 l4,2.4 v4 c0,2.2 -2,4 -4,4.8 c-2,-0.8 -4,-2.6 -4,-4.8Z" fill="none" stroke="#b9c2dc" stroke-width="0.7"/><circle cx="811.4" cy="527.8" r="2.3" fill="none" stroke="#d5d9e8" stroke-width="0.8"/>
<ellipse cx="826.7" cy="527.8" rx="5.7" ry="7.6" fill="#86202e"/><ellipse cx="826.7" cy="527.8" rx="4.9" ry="6.8" fill="none" stroke="#e9d6d8" stroke-width="0.8" stroke-dasharray="0.9 1.1"/><rect x="824" y="524.2" width="5.4" height="6.8" fill="#e4a9b3"/><path d="M825.8,524.2v6.8M827.6,524.2v6.8" stroke="#86202e" stroke-width="0.7"/>
</g>
</g>
</svg>
</body></html>
